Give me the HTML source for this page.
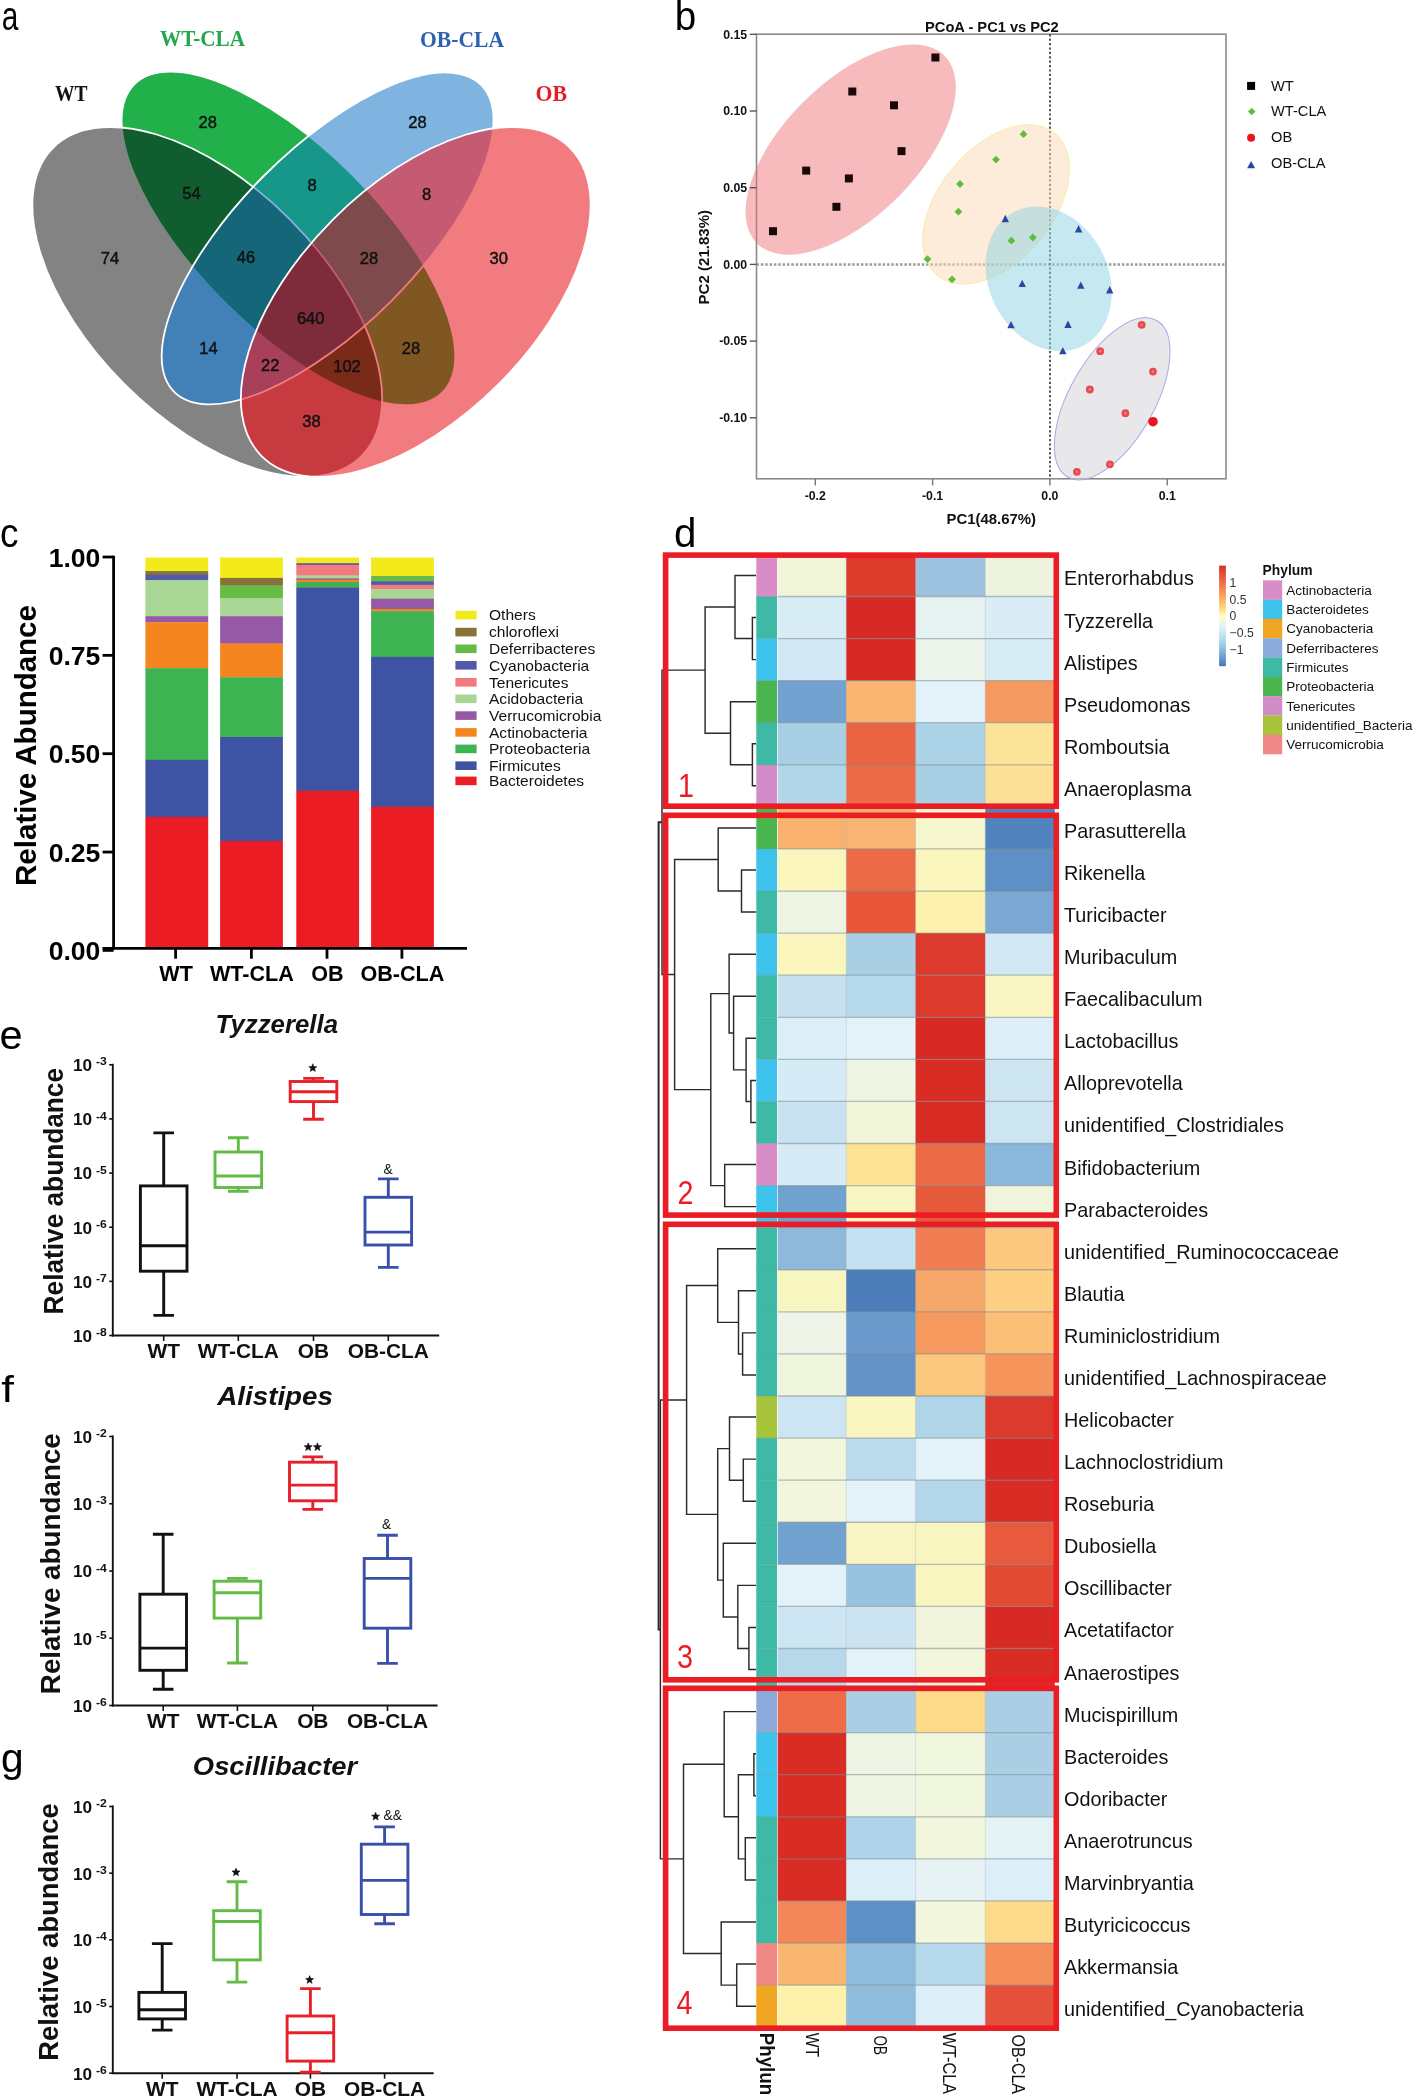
<!DOCTYPE html>
<html><head><meta charset="utf-8"><title>Figure</title>
<style>
html,body{margin:0;padding:0;background:#fff;width:1419px;height:2098px;overflow:hidden;}
svg{display:block;}
</style></head><body>
<svg style="will-change:transform" width="1419" height="2098" viewBox="0 0 1419 2098">
<defs>
<clipPath id="vcW"><ellipse cx="207.25" cy="301.9" rx="218" ry="116.8" transform="rotate(45 207.25 301.9)" /></clipPath>
<mask id="vnW" maskUnits="userSpaceOnUse" x="0" y="0" width="700" height="520"><rect x="0" y="0" width="700" height="520" fill="#fff"/><ellipse cx="207.25" cy="301.9" rx="218" ry="116.8" transform="rotate(45 207.25 301.9)" fill="#000"/></mask>
<clipPath id="vcG"><ellipse cx="288.4" cy="238.4" rx="217" ry="89.3" transform="rotate(45 288.4 238.4)" /></clipPath>
<mask id="vnG" maskUnits="userSpaceOnUse" x="0" y="0" width="700" height="520"><rect x="0" y="0" width="700" height="520" fill="#fff"/><ellipse cx="288.4" cy="238.4" rx="217" ry="89.3" transform="rotate(45 288.4 238.4)" fill="#000"/></mask>
<clipPath id="vcB"><ellipse cx="327.6" cy="238.4" rx="217" ry="89.3" transform="rotate(-45 327.6 238.4)" /></clipPath>
<mask id="vnB" maskUnits="userSpaceOnUse" x="0" y="0" width="700" height="520"><rect x="0" y="0" width="700" height="520" fill="#fff"/><ellipse cx="327.6" cy="238.4" rx="217" ry="89.3" transform="rotate(-45 327.6 238.4)" fill="#000"/></mask>
<clipPath id="vcR"><ellipse cx="415.75" cy="301.9" rx="218" ry="116.8" transform="rotate(-45 415.75 301.9)" /></clipPath>
<mask id="vnR" maskUnits="userSpaceOnUse" x="0" y="0" width="700" height="520"><rect x="0" y="0" width="700" height="520" fill="#fff"/><ellipse cx="415.75" cy="301.9" rx="218" ry="116.8" transform="rotate(-45 415.75 301.9)" fill="#000"/></mask>
<linearGradient id="ckey" x1="0" y1="0" x2="0" y2="1">
<stop offset="0" stop-color="#D73027"/><stop offset="0.17" stop-color="#F46D43"/><stop offset="0.33" stop-color="#FDAE61"/>
<stop offset="0.45" stop-color="#FEE090"/><stop offset="0.5" stop-color="#FFFFBF"/><stop offset="0.6" stop-color="#E0F3F8"/>
<stop offset="0.75" stop-color="#ABD9E9"/><stop offset="0.88" stop-color="#74ADD1"/><stop offset="1" stop-color="#4575B4"/></linearGradient>
</defs>
<rect x="0" y="0" width="1419" height="2098" fill="#fff"/>
<g id="venn">
<ellipse cx="207.25" cy="301.9" rx="218" ry="116.8" transform="rotate(45 207.25 301.9)" fill="#828382"/>
<ellipse cx="288.4" cy="238.4" rx="217" ry="89.3" transform="rotate(45 288.4 238.4)" fill="#22B04B"/>
<ellipse cx="327.6" cy="238.4" rx="217" ry="89.3" transform="rotate(-45 327.6 238.4)" fill="#80B4E0"/>
<ellipse cx="415.75" cy="301.9" rx="218" ry="116.8" transform="rotate(-45 415.75 301.9)" fill="#F27B7F"/>
<g clip-path="url(#vcW)"><ellipse cx="288.4" cy="238.4" rx="217" ry="89.3" transform="rotate(45 288.4 238.4)" fill="#105E2F"/></g>
<g clip-path="url(#vcG)"><ellipse cx="327.6" cy="238.4" rx="217" ry="89.3" transform="rotate(-45 327.6 238.4)" fill="#17968A"/></g>
<g clip-path="url(#vcB)"><ellipse cx="415.75" cy="301.9" rx="218" ry="116.8" transform="rotate(-45 415.75 301.9)" fill="#C45B72"/></g>
<g clip-path="url(#vcW)"><ellipse cx="327.6" cy="238.4" rx="217" ry="89.3" transform="rotate(-45 327.6 238.4)" fill="#4181B8"/></g>
<g clip-path="url(#vcW)"><ellipse cx="415.75" cy="301.9" rx="218" ry="116.8" transform="rotate(-45 415.75 301.9)" fill="#C73A3F"/></g>
<g clip-path="url(#vcG)"><ellipse cx="415.75" cy="301.9" rx="218" ry="116.8" transform="rotate(-45 415.75 301.9)" fill="#805722"/></g>
<g clip-path="url(#vcW)"><g clip-path="url(#vcG)"><ellipse cx="327.6" cy="238.4" rx="217" ry="89.3" transform="rotate(-45 327.6 238.4)" fill="#166679"/></g></g>
<g clip-path="url(#vcG)"><g clip-path="url(#vcB)"><ellipse cx="415.75" cy="301.9" rx="218" ry="116.8" transform="rotate(-45 415.75 301.9)" fill="#7F4A4B"/></g></g>
<g clip-path="url(#vcW)"><g clip-path="url(#vcG)"><ellipse cx="415.75" cy="301.9" rx="218" ry="116.8" transform="rotate(-45 415.75 301.9)" fill="#7A2A18"/></g></g>
<g clip-path="url(#vcW)"><g clip-path="url(#vcB)"><ellipse cx="415.75" cy="301.9" rx="218" ry="116.8" transform="rotate(-45 415.75 301.9)" fill="#A8405C"/></g></g>
<g clip-path="url(#vcW)"><g clip-path="url(#vcG)"><g clip-path="url(#vcB)"><ellipse cx="415.75" cy="301.9" rx="218" ry="116.8" transform="rotate(-45 415.75 301.9)" fill="#7E2C3C"/></g></g></g>
<g mask="url(#vnB)"><g mask="url(#vnR)"><ellipse cx="207.25" cy="301.9" rx="218" ry="116.8" transform="rotate(45 207.25 301.9)" fill="none" stroke="#fff" stroke-width="1.8"/></g></g>
<g clip-path="url(#vcB)"><g mask="url(#vnR)"><ellipse cx="207.25" cy="301.9" rx="218" ry="116.8" transform="rotate(45 207.25 301.9)" fill="none" stroke="#80B4E0" stroke-width="1.8"/></g></g>
<g clip-path="url(#vcR)"><g mask="url(#vnB)"><ellipse cx="207.25" cy="301.9" rx="218" ry="116.8" transform="rotate(45 207.25 301.9)" fill="none" stroke="#F27B7F" stroke-width="1.8"/></g></g>
<g clip-path="url(#vcR)"><g clip-path="url(#vcB)"><ellipse cx="207.25" cy="301.9" rx="218" ry="116.8" transform="rotate(45 207.25 301.9)" fill="none" stroke="#C45B72" stroke-width="1.8"/></g></g>
<g mask="url(#vnR)"><ellipse cx="327.6" cy="238.4" rx="217" ry="89.3" transform="rotate(-45 327.6 238.4)" fill="none" stroke="#fff" stroke-width="1.8"/></g>
<g clip-path="url(#vcR)"><ellipse cx="327.6" cy="238.4" rx="217" ry="89.3" transform="rotate(-45 327.6 238.4)" fill="none" stroke="#F27B7F" stroke-width="1.8"/></g>
<ellipse cx="415.75" cy="301.9" rx="218" ry="116.8" transform="rotate(-45 415.75 301.9)" fill="none" stroke="#fff" stroke-width="1.8"/>
</g>
<text x="207.8" y="128" font-family="Liberation Sans" font-size="16.5" font-weight="normal" fill="#111" text-anchor="middle" stroke="#111" stroke-width="0.45">28</text>
<text x="417.4" y="128" font-family="Liberation Sans" font-size="16.5" font-weight="normal" fill="#111" text-anchor="middle" stroke="#111" stroke-width="0.45">28</text>
<text x="191.4" y="199.3" font-family="Liberation Sans" font-size="16.5" font-weight="normal" fill="#111" text-anchor="middle" stroke="#111" stroke-width="0.45">54</text>
<text x="312" y="190.9" font-family="Liberation Sans" font-size="16.5" font-weight="normal" fill="#111" text-anchor="middle" stroke="#111" stroke-width="0.45">8</text>
<text x="426.7" y="199.5" font-family="Liberation Sans" font-size="16.5" font-weight="normal" fill="#111" text-anchor="middle" stroke="#111" stroke-width="0.45">8</text>
<text x="110" y="264.1" font-family="Liberation Sans" font-size="16.5" font-weight="normal" fill="#111" text-anchor="middle" stroke="#111" stroke-width="0.45">74</text>
<text x="246" y="263.4" font-family="Liberation Sans" font-size="16.5" font-weight="normal" fill="#111" text-anchor="middle" stroke="#111" stroke-width="0.45">46</text>
<text x="369" y="263.9" font-family="Liberation Sans" font-size="16.5" font-weight="normal" fill="#111" text-anchor="middle" stroke="#111" stroke-width="0.45">28</text>
<text x="498.7" y="263.6" font-family="Liberation Sans" font-size="16.5" font-weight="normal" fill="#111" text-anchor="middle" stroke="#111" stroke-width="0.45">30</text>
<text x="310.7" y="323.5" font-family="Liberation Sans" font-size="16.5" font-weight="normal" fill="#111" text-anchor="middle" stroke="#111" stroke-width="0.45">640</text>
<text x="208.4" y="354.1" font-family="Liberation Sans" font-size="16.5" font-weight="normal" fill="#111" text-anchor="middle" stroke="#111" stroke-width="0.45">14</text>
<text x="270.3" y="371.2" font-family="Liberation Sans" font-size="16.5" font-weight="normal" fill="#111" text-anchor="middle" stroke="#111" stroke-width="0.45">22</text>
<text x="347" y="371.5" font-family="Liberation Sans" font-size="16.5" font-weight="normal" fill="#111" text-anchor="middle" stroke="#111" stroke-width="0.45">102</text>
<text x="411" y="354.1" font-family="Liberation Sans" font-size="16.5" font-weight="normal" fill="#111" text-anchor="middle" stroke="#111" stroke-width="0.45">28</text>
<text x="311.4" y="427.3" font-family="Liberation Sans" font-size="16.5" font-weight="normal" fill="#111" text-anchor="middle" stroke="#111" stroke-width="0.45">38</text>
<text x="55" y="101" font-family="Liberation Serif" font-size="23.2" font-weight="bold" fill="#111" textLength="32.5" lengthAdjust="spacingAndGlyphs">WT</text>
<text x="160" y="46" font-family="Liberation Serif" font-size="23.2" font-weight="bold" fill="#21A84A" textLength="85" lengthAdjust="spacingAndGlyphs">WT-CLA</text>
<text x="420" y="46.5" font-family="Liberation Serif" font-size="23.2" font-weight="bold" fill="#2F62AE" textLength="84" lengthAdjust="spacingAndGlyphs">OB-CLA</text>
<text x="535.5" y="101.3" font-family="Liberation Serif" font-size="23.2" font-weight="bold" fill="#E41E25" textLength="31.5" lengthAdjust="spacingAndGlyphs">OB</text>
<text transform="translate(1.8 29.6) scale(0.72 1)" font-family="Liberation Sans" font-size="41.5" fill="#000">a</text>
<g id="pcoa">
<rect x="756.5" y="34.2" width="469.5" height="444.6" fill="none" stroke="#8a8a8a" stroke-width="1.6"/>
<line x1="756.5" y1="264.5" x2="1226" y2="264.5" stroke="#9b9b9b" stroke-width="2.6" stroke-dasharray="2.5 1.85"/>
<line x1="1050" y1="34.2" x2="1050" y2="478.8" stroke="#555" stroke-width="2" stroke-dasharray="2.2 2.2"/>
<ellipse cx="850.7" cy="149.55" rx="132.7" ry="67.1" transform="rotate(-45 850.7 149.55)" fill="#EE6E76" fill-opacity="0.48" stroke="none" stroke-width="0"/>
<ellipse cx="996.1" cy="204.4" rx="92.2" ry="56.7" transform="rotate(-50.25 996.1 204.4)" fill="#FBD9B5" fill-opacity="0.5" stroke="#F2EB9A" stroke-width="0.8"/>
<ellipse cx="1048.7" cy="278.8" rx="75.3" ry="59.6" transform="rotate(63.2 1048.7 278.8)" fill="#92D3E3" fill-opacity="0.52" stroke="none" stroke-width="0"/>
<ellipse cx="1112.2" cy="398.8" rx="90" ry="42.4" transform="rotate(-60.4 1112.2 398.8)" fill="#D5D5D8" fill-opacity="0.55" stroke="#A8A8E6" stroke-width="1"/>
<line x1="749.8" y1="34.3" x2="756.5" y2="34.3" stroke="#555" stroke-width="1.4"/>
<text x="747.2" y="38.6" font-family="Liberation Sans" font-size="12.3" font-weight="bold" fill="#111" text-anchor="end" >0.15</text>
<line x1="749.8" y1="111" x2="756.5" y2="111" stroke="#555" stroke-width="1.4"/>
<text x="747.2" y="115.3" font-family="Liberation Sans" font-size="12.3" font-weight="bold" fill="#111" text-anchor="end" >0.10</text>
<line x1="749.8" y1="187.7" x2="756.5" y2="187.7" stroke="#555" stroke-width="1.4"/>
<text x="747.2" y="192" font-family="Liberation Sans" font-size="12.3" font-weight="bold" fill="#111" text-anchor="end" >0.05</text>
<line x1="749.8" y1="264.4" x2="756.5" y2="264.4" stroke="#555" stroke-width="1.4"/>
<text x="747.2" y="268.7" font-family="Liberation Sans" font-size="12.3" font-weight="bold" fill="#111" text-anchor="end" >0.00</text>
<line x1="749.8" y1="341.1" x2="756.5" y2="341.1" stroke="#555" stroke-width="1.4"/>
<text x="747.2" y="345.4" font-family="Liberation Sans" font-size="12.3" font-weight="bold" fill="#111" text-anchor="end" >-0.05</text>
<line x1="749.8" y1="417.8" x2="756.5" y2="417.8" stroke="#555" stroke-width="1.4"/>
<text x="747.2" y="422.1" font-family="Liberation Sans" font-size="12.3" font-weight="bold" fill="#111" text-anchor="end" >-0.10</text>
<line x1="815.3" y1="478.8" x2="815.3" y2="485.4" stroke="#777" stroke-width="1.4"/>
<text x="815.3" y="499.6" font-family="Liberation Sans" font-size="12.3" font-weight="bold" fill="#111" text-anchor="middle" >-0.2</text>
<line x1="932.6" y1="478.8" x2="932.6" y2="485.4" stroke="#777" stroke-width="1.4"/>
<text x="932.6" y="499.6" font-family="Liberation Sans" font-size="12.3" font-weight="bold" fill="#111" text-anchor="middle" >-0.1</text>
<line x1="1049.9" y1="478.8" x2="1049.9" y2="485.4" stroke="#777" stroke-width="1.4"/>
<text x="1049.9" y="499.6" font-family="Liberation Sans" font-size="12.3" font-weight="bold" fill="#111" text-anchor="middle" >0.0</text>
<line x1="1167.2" y1="478.8" x2="1167.2" y2="485.4" stroke="#777" stroke-width="1.4"/>
<text x="1167.2" y="499.6" font-family="Liberation Sans" font-size="12.3" font-weight="bold" fill="#111" text-anchor="middle" >0.1</text>
<text x="991.9" y="31.6" font-family="Liberation Sans" font-size="14.65" font-weight="bold" fill="#111" text-anchor="middle" >PCoA - PC1 vs PC2</text>
<text x="991.3" y="524.3" font-family="Liberation Sans" font-size="14.9" font-weight="bold" fill="#111" text-anchor="middle" >PC1(48.67%)</text>
<text transform="translate(709.3 257.2) rotate(-90)" font-family="Liberation Sans" font-size="15.05" font-weight="bold" fill="#111" text-anchor="middle">PC2 (21.83%)</text>
<rect x="931.4" y="53.5" width="8" height="8" fill="#1a0808"/>
<rect x="848.3" y="87.5" width="8" height="8" fill="#1a0808"/>
<rect x="890" y="101.3" width="8" height="8" fill="#1a0808"/>
<rect x="897.5" y="147.1" width="8" height="8" fill="#1a0808"/>
<rect x="802.2" y="166.6" width="8" height="8" fill="#1a0808"/>
<rect x="844.9" y="174.4" width="8" height="8" fill="#1a0808"/>
<rect x="832.4" y="202.8" width="8" height="8" fill="#1a0808"/>
<rect x="769" y="227.2" width="8" height="8" fill="#1a0808"/>
<path d="M1023.5 130.3l3.9 3.9l-3.9 3.9l-3.9 -3.9z" fill="#5DBE3A"/>
<path d="M996 155.7l3.9 3.9l-3.9 3.9l-3.9 -3.9z" fill="#5DBE3A"/>
<path d="M960 180.1l3.9 3.9l-3.9 3.9l-3.9 -3.9z" fill="#5DBE3A"/>
<path d="M958.4 207.8l3.9 3.9l-3.9 3.9l-3.9 -3.9z" fill="#5DBE3A"/>
<path d="M1011.4 236.8l3.9 3.9l-3.9 3.9l-3.9 -3.9z" fill="#5DBE3A"/>
<path d="M1032.8 233.6l3.9 3.9l-3.9 3.9l-3.9 -3.9z" fill="#5DBE3A"/>
<path d="M927.5 255.2l3.9 3.9l-3.9 3.9l-3.9 -3.9z" fill="#5DBE3A"/>
<path d="M952 275.5l3.9 3.9l-3.9 3.9l-3.9 -3.9z" fill="#5DBE3A"/>
<path d="M1005.3 214.8l3.7 7.4h-7.4z" fill="#2C46A6"/>
<path d="M1078.6 225l3.7 7.4h-7.4z" fill="#2C46A6"/>
<path d="M1022.2 279.7l3.7 7.4h-7.4z" fill="#2C46A6"/>
<path d="M1080.8 281.4l3.7 7.4h-7.4z" fill="#2C46A6"/>
<path d="M1109.7 286.1l3.7 7.4h-7.4z" fill="#2C46A6"/>
<path d="M1011 320.9l3.7 7.4h-7.4z" fill="#2C46A6"/>
<path d="M1068 320.5l3.7 7.4h-7.4z" fill="#2C46A6"/>
<path d="M1062.8 346.9l3.7 7.4h-7.4z" fill="#2C46A6"/>
<circle cx="1141.7" cy="324.8" r="3.9" fill="#EA4850"/>
<circle cx="1141.7" cy="324.8" r="1.4" fill="#F27A80"/>
<circle cx="1100.2" cy="351.2" r="3.9" fill="#EA4850"/>
<circle cx="1100.2" cy="351.2" r="1.4" fill="#F27A80"/>
<circle cx="1153" cy="371.6" r="3.9" fill="#EA4850"/>
<circle cx="1153" cy="371.6" r="1.4" fill="#F27A80"/>
<circle cx="1089.8" cy="389.5" r="3.9" fill="#EA4850"/>
<circle cx="1089.8" cy="389.5" r="1.4" fill="#F27A80"/>
<circle cx="1125.4" cy="413.2" r="3.9" fill="#EA4850"/>
<circle cx="1125.4" cy="413.2" r="1.4" fill="#F27A80"/>
<circle cx="1109.9" cy="464.3" r="3.9" fill="#EA4850"/>
<circle cx="1109.9" cy="464.3" r="1.4" fill="#F27A80"/>
<circle cx="1076.9" cy="471.8" r="3.9" fill="#EA4850"/>
<circle cx="1076.9" cy="471.8" r="1.4" fill="#F27A80"/>
<circle cx="1153" cy="421.7" r="4.8" fill="#E8141E"/>
<rect x="1247.1" y="81.9" width="8" height="8" fill="#000"/>
<path d="M1251.7 107.7l3.8 3.8l-3.8 3.8l-3.8 -3.8z" fill="#5DBE3A"/>
<circle cx="1251.1" cy="137.7" r="4.0" fill="#E8141E"/>
<path d="M1251.1 160.9l4 7.4h-8z" fill="#2C46A6"/>
<text x="1271" y="90.7" font-family="Liberation Sans" font-size="14.65" font-weight="normal" fill="#111" text-anchor="start" >WT</text>
<text x="1271" y="115.7" font-family="Liberation Sans" font-size="14.65" font-weight="normal" fill="#111" text-anchor="start" >WT-CLA</text>
<text x="1271" y="142" font-family="Liberation Sans" font-size="14.65" font-weight="normal" fill="#111" text-anchor="start" >OB</text>
<text x="1271" y="168" font-family="Liberation Sans" font-size="14.65" font-weight="normal" fill="#111" text-anchor="start" >OB-CLA</text>
</g>
<text transform="translate(674.7 30) scale(0.93 1)" font-family="Liberation Sans" font-size="41.5" fill="#000">b</text>
<g id="bars">
<rect x="145.4" y="557.5" width="62.8" height="13.9" fill="#F3EA1B"/>
<rect x="145.4" y="571.1" width="62.8" height="3.9" fill="#85733A"/>
<rect x="145.4" y="574.7" width="62.8" height="5.8" fill="#5159A8"/>
<rect x="145.4" y="580.2" width="62.8" height="36.3" fill="#A9D595"/>
<rect x="145.4" y="616.2" width="62.8" height="6.3" fill="#9659A6"/>
<rect x="145.4" y="622.2" width="62.8" height="46.3" fill="#F5861F"/>
<rect x="145.4" y="668.2" width="62.8" height="91.9" fill="#3DB351"/>
<rect x="145.4" y="759.8" width="62.8" height="57.4" fill="#3F53A5"/>
<rect x="145.4" y="816.9" width="62.8" height="131.9" fill="#EB1C24"/>
<rect x="220.1" y="557.5" width="62.8" height="20.7" fill="#F3EA1B"/>
<rect x="220.1" y="577.9" width="62.8" height="7.9" fill="#85733A"/>
<rect x="220.1" y="585.5" width="62.8" height="12.8" fill="#66BB46"/>
<rect x="220.1" y="598" width="62.8" height="18.5" fill="#A9D595"/>
<rect x="220.1" y="616.2" width="62.8" height="27.6" fill="#9659A6"/>
<rect x="220.1" y="643.5" width="62.8" height="34.1" fill="#F5861F"/>
<rect x="220.1" y="677.3" width="62.8" height="60" fill="#3DB351"/>
<rect x="220.1" y="737" width="62.8" height="104.3" fill="#3F53A5"/>
<rect x="220.1" y="841" width="62.8" height="107.8" fill="#EB1C24"/>
<rect x="296.3" y="557.5" width="62.8" height="6" fill="#F3EA1B"/>
<rect x="296.3" y="563.2" width="62.8" height="2" fill="#5159A8"/>
<rect x="296.3" y="564.9" width="62.8" height="10.9" fill="#F07A7E"/>
<rect x="296.3" y="575.5" width="62.8" height="3.1" fill="#A9D595"/>
<rect x="296.3" y="578.3" width="62.8" height="1.8" fill="#9659A6"/>
<rect x="296.3" y="579.8" width="62.8" height="2.5" fill="#F5861F"/>
<rect x="296.3" y="582" width="62.8" height="5.7" fill="#3DB351"/>
<rect x="296.3" y="587.4" width="62.8" height="203.6" fill="#3F53A5"/>
<rect x="296.3" y="790.7" width="62.8" height="158.1" fill="#EB1C24"/>
<rect x="371.1" y="557.5" width="62.8" height="18.8" fill="#F3EA1B"/>
<rect x="371.1" y="576" width="62.8" height="5.5" fill="#66BB46"/>
<rect x="371.1" y="581.2" width="62.8" height="3.9" fill="#5159A8"/>
<rect x="371.1" y="584.8" width="62.8" height="4.6" fill="#F07A7E"/>
<rect x="371.1" y="589.1" width="62.8" height="9.9" fill="#A9D595"/>
<rect x="371.1" y="598.7" width="62.8" height="10.6" fill="#9659A6"/>
<rect x="371.1" y="609" width="62.8" height="2.5" fill="#F5861F"/>
<rect x="371.1" y="611.2" width="62.8" height="46" fill="#3DB351"/>
<rect x="371.1" y="656.9" width="62.8" height="150.1" fill="#3F53A5"/>
<rect x="371.1" y="806.7" width="62.8" height="142.1" fill="#EB1C24"/>
<line x1="113.6" y1="555.8" x2="113.6" y2="949.6" stroke="#000" stroke-width="2.8"/>
<line x1="102.5" y1="948.4" x2="467" y2="948.4" stroke="#000" stroke-width="2.8"/>
<line x1="102.6" y1="557" x2="113.6" y2="557" stroke="#000" stroke-width="2.8"/>
<text x="100.4" y="566.6" font-family="Liberation Sans" font-size="26.6" font-weight="bold" fill="#000" text-anchor="end" >1.00</text>
<line x1="102.6" y1="655.35" x2="113.6" y2="655.35" stroke="#000" stroke-width="2.8"/>
<text x="100.4" y="664.95" font-family="Liberation Sans" font-size="26.6" font-weight="bold" fill="#000" text-anchor="end" >0.75</text>
<line x1="102.6" y1="753.7" x2="113.6" y2="753.7" stroke="#000" stroke-width="2.8"/>
<text x="100.4" y="763.3" font-family="Liberation Sans" font-size="26.6" font-weight="bold" fill="#000" text-anchor="end" >0.50</text>
<line x1="102.6" y1="852.05" x2="113.6" y2="852.05" stroke="#000" stroke-width="2.8"/>
<text x="100.4" y="861.65" font-family="Liberation Sans" font-size="26.6" font-weight="bold" fill="#000" text-anchor="end" >0.25</text>
<line x1="102.6" y1="950.4" x2="113.6" y2="950.4" stroke="#000" stroke-width="2.8"/>
<text x="100.4" y="960" font-family="Liberation Sans" font-size="26.6" font-weight="bold" fill="#000" text-anchor="end" >0.00</text>
<line x1="175.6" y1="948.4" x2="175.6" y2="958.7" stroke="#000" stroke-width="2.8"/>
<text x="176.1" y="981" font-family="Liberation Sans" font-size="21.6" font-weight="bold" fill="#000" text-anchor="middle" >WT</text>
<line x1="251.4" y1="948.4" x2="251.4" y2="958.7" stroke="#000" stroke-width="2.8"/>
<text x="251.9" y="981" font-family="Liberation Sans" font-size="21.6" font-weight="bold" fill="#000" text-anchor="middle" >WT-CLA</text>
<line x1="327" y1="948.4" x2="327" y2="958.7" stroke="#000" stroke-width="2.8"/>
<text x="327.5" y="981" font-family="Liberation Sans" font-size="21.6" font-weight="bold" fill="#000" text-anchor="middle" >OB</text>
<line x1="401.9" y1="948.4" x2="401.9" y2="958.7" stroke="#000" stroke-width="2.8"/>
<text x="402.4" y="981" font-family="Liberation Sans" font-size="21.6" font-weight="bold" fill="#000" text-anchor="middle" >OB-CLA</text>
<text transform="translate(36.2 745.5) rotate(-90)" font-family="Liberation Sans" font-size="29.5" font-weight="bold" fill="#000" text-anchor="middle">Relative Abundance</text>
<rect x="455.4" y="610.8" width="21.2" height="8.6" fill="#F3EA1B"/>
<text x="489" y="620.4" font-family="Liberation Sans" font-size="15.55" font-weight="normal" fill="#111" text-anchor="start" >Others</text>
<rect x="455.4" y="627.8" width="21.2" height="8.6" fill="#85733A"/>
<text x="489" y="637.4" font-family="Liberation Sans" font-size="15.55" font-weight="normal" fill="#111" text-anchor="start" >chloroflexi</text>
<rect x="455.4" y="644.5" width="21.2" height="8.6" fill="#66BB46"/>
<text x="489" y="654.1" font-family="Liberation Sans" font-size="15.55" font-weight="normal" fill="#111" text-anchor="start" >Deferribacteres</text>
<rect x="455.4" y="661" width="21.2" height="8.6" fill="#5159A8"/>
<text x="489" y="670.6" font-family="Liberation Sans" font-size="15.55" font-weight="normal" fill="#111" text-anchor="start" >Cyanobacteria</text>
<rect x="455.4" y="678" width="21.2" height="8.6" fill="#F07A7E"/>
<text x="489" y="687.6" font-family="Liberation Sans" font-size="15.55" font-weight="normal" fill="#111" text-anchor="start" >Tenericutes</text>
<rect x="455.4" y="694.5" width="21.2" height="8.6" fill="#A9D595"/>
<text x="489" y="704.1" font-family="Liberation Sans" font-size="15.55" font-weight="normal" fill="#111" text-anchor="start" >Acidobacteria</text>
<rect x="455.4" y="711.3" width="21.2" height="8.6" fill="#9659A6"/>
<text x="489" y="720.9" font-family="Liberation Sans" font-size="15.55" font-weight="normal" fill="#111" text-anchor="start" >Verrucomicrobia</text>
<rect x="455.4" y="728.1" width="21.2" height="8.6" fill="#F5861F"/>
<text x="489" y="737.7" font-family="Liberation Sans" font-size="15.55" font-weight="normal" fill="#111" text-anchor="start" >Actinobacteria</text>
<rect x="455.4" y="744.6" width="21.2" height="8.6" fill="#3DB351"/>
<text x="489" y="754.2" font-family="Liberation Sans" font-size="15.55" font-weight="normal" fill="#111" text-anchor="start" >Proteobacteria</text>
<rect x="455.4" y="761.4" width="21.2" height="8.6" fill="#3F53A5"/>
<text x="489" y="771" font-family="Liberation Sans" font-size="15.55" font-weight="normal" fill="#111" text-anchor="start" >Firmicutes</text>
<rect x="455.4" y="776.6" width="21.2" height="8.6" fill="#EB1C24"/>
<text x="489" y="786.2" font-family="Liberation Sans" font-size="15.55" font-weight="normal" fill="#111" text-anchor="start" >Bacteroidetes</text>
</g>
<text transform="translate(0 547.2) scale(0.89 1)" font-family="Liberation Sans" font-size="41.5" fill="#000">c</text>
<g id="heat">
<rect x="756.3" y="554.4" width="21.1" height="42.28" fill="#DA8CC6"/>
<rect x="777.2" y="554.4" width="69.3" height="42.28" fill="#F1F6D8"/>
<rect x="846.3" y="554.4" width="69.5" height="42.28" fill="#DC3B2C"/>
<rect x="915.6" y="554.4" width="69.9" height="42.28" fill="#9DC3E0"/>
<rect x="985.3" y="554.4" width="69.5" height="42.28" fill="#EEF3E0"/>
<rect x="756.3" y="596.48" width="21.1" height="42.28" fill="#3DB9A6"/>
<rect x="777.2" y="596.48" width="69.3" height="42.28" fill="#D8ECF6"/>
<rect x="846.3" y="596.48" width="69.5" height="42.28" fill="#D82A24"/>
<rect x="915.6" y="596.48" width="69.9" height="42.28" fill="#E6F2F2"/>
<rect x="985.3" y="596.48" width="69.5" height="42.28" fill="#DAEDF6"/>
<rect x="756.3" y="638.56" width="21.1" height="42.28" fill="#3DC3EC"/>
<rect x="777.2" y="638.56" width="69.3" height="42.28" fill="#D2E8F4"/>
<rect x="846.3" y="638.56" width="69.5" height="42.28" fill="#D82A24"/>
<rect x="915.6" y="638.56" width="69.9" height="42.28" fill="#EBF3EB"/>
<rect x="985.3" y="638.56" width="69.5" height="42.28" fill="#D8ECF6"/>
<rect x="756.3" y="680.64" width="21.1" height="42.28" fill="#4BB54F"/>
<rect x="777.2" y="680.64" width="69.3" height="42.28" fill="#73A2D0"/>
<rect x="846.3" y="680.64" width="69.5" height="42.28" fill="#F8B470"/>
<rect x="915.6" y="680.64" width="69.9" height="42.28" fill="#E2F2F8"/>
<rect x="985.3" y="680.64" width="69.5" height="42.28" fill="#F49A60"/>
<rect x="756.3" y="722.72" width="21.1" height="42.28" fill="#3DB9A6"/>
<rect x="777.2" y="722.72" width="69.3" height="42.28" fill="#A8CFE4"/>
<rect x="846.3" y="722.72" width="69.5" height="42.28" fill="#EA6443"/>
<rect x="915.6" y="722.72" width="69.9" height="42.28" fill="#ABD2E6"/>
<rect x="985.3" y="722.72" width="69.5" height="42.28" fill="#FCE39A"/>
<rect x="756.3" y="764.8" width="21.1" height="42.28" fill="#D28CC8"/>
<rect x="777.2" y="764.8" width="69.3" height="42.28" fill="#B0D6E8"/>
<rect x="846.3" y="764.8" width="69.5" height="42.28" fill="#EC6B47"/>
<rect x="915.6" y="764.8" width="69.9" height="42.28" fill="#A8CFE4"/>
<rect x="985.3" y="764.8" width="69.5" height="42.28" fill="#FCE096"/>
<rect x="756.3" y="806.88" width="21.1" height="42.28" fill="#4BB54F"/>
<rect x="777.2" y="806.88" width="69.3" height="42.28" fill="#F9B170"/>
<rect x="846.3" y="806.88" width="69.5" height="42.28" fill="#F9B473"/>
<rect x="915.6" y="806.88" width="69.9" height="42.28" fill="#F6F7CF"/>
<rect x="985.3" y="806.88" width="69.5" height="42.28" fill="#5184BE"/>
<rect x="756.3" y="848.96" width="21.1" height="42.28" fill="#3DC3EC"/>
<rect x="777.2" y="848.96" width="69.3" height="42.28" fill="#FAF6BE"/>
<rect x="846.3" y="848.96" width="69.5" height="42.28" fill="#EC6A48"/>
<rect x="915.6" y="848.96" width="69.9" height="42.28" fill="#FAF6BE"/>
<rect x="985.3" y="848.96" width="69.5" height="42.28" fill="#5E8FC6"/>
<rect x="756.3" y="891.04" width="21.1" height="42.28" fill="#3DB9A6"/>
<rect x="777.2" y="891.04" width="69.3" height="42.28" fill="#EEF4E4"/>
<rect x="846.3" y="891.04" width="69.5" height="42.28" fill="#E8573A"/>
<rect x="915.6" y="891.04" width="69.9" height="42.28" fill="#FCF2AE"/>
<rect x="985.3" y="891.04" width="69.5" height="42.28" fill="#7AA8D2"/>
<rect x="756.3" y="933.12" width="21.1" height="42.28" fill="#3DC3EC"/>
<rect x="777.2" y="933.12" width="69.3" height="42.28" fill="#FAF6BE"/>
<rect x="846.3" y="933.12" width="69.5" height="42.28" fill="#A8CFE4"/>
<rect x="915.6" y="933.12" width="69.9" height="42.28" fill="#DC3A2D"/>
<rect x="985.3" y="933.12" width="69.5" height="42.28" fill="#D2E8F4"/>
<rect x="756.3" y="975.2" width="21.1" height="42.28" fill="#3DB9A6"/>
<rect x="777.2" y="975.2" width="69.3" height="42.28" fill="#C6E0F0"/>
<rect x="846.3" y="975.2" width="69.5" height="42.28" fill="#B5D8EA"/>
<rect x="915.6" y="975.2" width="69.9" height="42.28" fill="#DB3A2C"/>
<rect x="985.3" y="975.2" width="69.5" height="42.28" fill="#FAF6C4"/>
<rect x="756.3" y="1017.28" width="21.1" height="42.28" fill="#3DB9A6"/>
<rect x="777.2" y="1017.28" width="69.3" height="42.28" fill="#DCEEF7"/>
<rect x="846.3" y="1017.28" width="69.5" height="42.28" fill="#E2F2F7"/>
<rect x="915.6" y="1017.28" width="69.9" height="42.28" fill="#D72A24"/>
<rect x="985.3" y="1017.28" width="69.5" height="42.28" fill="#DCEEF7"/>
<rect x="756.3" y="1059.36" width="21.1" height="42.28" fill="#3DC3EC"/>
<rect x="777.2" y="1059.36" width="69.3" height="42.28" fill="#D5EBF6"/>
<rect x="846.3" y="1059.36" width="69.5" height="42.28" fill="#EEF4E2"/>
<rect x="915.6" y="1059.36" width="69.9" height="42.28" fill="#D82C25"/>
<rect x="985.3" y="1059.36" width="69.5" height="42.28" fill="#CDE5F1"/>
<rect x="756.3" y="1101.44" width="21.1" height="42.28" fill="#3DB9A6"/>
<rect x="777.2" y="1101.44" width="69.3" height="42.28" fill="#C9E2F1"/>
<rect x="846.3" y="1101.44" width="69.5" height="42.28" fill="#F0F5DA"/>
<rect x="915.6" y="1101.44" width="69.9" height="42.28" fill="#D82C25"/>
<rect x="985.3" y="1101.44" width="69.5" height="42.28" fill="#CCE5F1"/>
<rect x="756.3" y="1143.52" width="21.1" height="42.28" fill="#DA8CC6"/>
<rect x="777.2" y="1143.52" width="69.3" height="42.28" fill="#D6EBF6"/>
<rect x="846.3" y="1143.52" width="69.5" height="42.28" fill="#FCE394"/>
<rect x="915.6" y="1143.52" width="69.9" height="42.28" fill="#EC6A46"/>
<rect x="985.3" y="1143.52" width="69.5" height="42.28" fill="#8AB8DA"/>
<rect x="756.3" y="1185.6" width="21.1" height="42.28" fill="#3DC3EC"/>
<rect x="777.2" y="1185.6" width="69.3" height="42.28" fill="#70A2D0"/>
<rect x="846.3" y="1185.6" width="69.5" height="42.28" fill="#F8F5C0"/>
<rect x="915.6" y="1185.6" width="69.9" height="42.28" fill="#E65A3C"/>
<rect x="985.3" y="1185.6" width="69.5" height="42.28" fill="#EFF4DA"/>
<rect x="756.3" y="1227.68" width="21.1" height="42.28" fill="#3DB9A6"/>
<rect x="777.2" y="1227.68" width="69.3" height="42.28" fill="#8EB9DA"/>
<rect x="846.3" y="1227.68" width="69.5" height="42.28" fill="#C3E1F0"/>
<rect x="915.6" y="1227.68" width="69.9" height="42.28" fill="#F07E52"/>
<rect x="985.3" y="1227.68" width="69.5" height="42.28" fill="#FCC77E"/>
<rect x="756.3" y="1269.76" width="21.1" height="42.28" fill="#3DB9A6"/>
<rect x="777.2" y="1269.76" width="69.3" height="42.28" fill="#F8F6C0"/>
<rect x="846.3" y="1269.76" width="69.5" height="42.28" fill="#4C7DB9"/>
<rect x="915.6" y="1269.76" width="69.9" height="42.28" fill="#F6A86A"/>
<rect x="985.3" y="1269.76" width="69.5" height="42.28" fill="#FDD084"/>
<rect x="756.3" y="1311.84" width="21.1" height="42.28" fill="#3DB9A6"/>
<rect x="777.2" y="1311.84" width="69.3" height="42.28" fill="#EEF4E8"/>
<rect x="846.3" y="1311.84" width="69.5" height="42.28" fill="#6A9ACB"/>
<rect x="915.6" y="1311.84" width="69.9" height="42.28" fill="#F5995E"/>
<rect x="985.3" y="1311.84" width="69.5" height="42.28" fill="#FCBF78"/>
<rect x="756.3" y="1353.92" width="21.1" height="42.28" fill="#3DB9A6"/>
<rect x="777.2" y="1353.92" width="69.3" height="42.28" fill="#F0F5DE"/>
<rect x="846.3" y="1353.92" width="69.5" height="42.28" fill="#6593C8"/>
<rect x="915.6" y="1353.92" width="69.9" height="42.28" fill="#FCC880"/>
<rect x="985.3" y="1353.92" width="69.5" height="42.28" fill="#F5955C"/>
<rect x="756.3" y="1396" width="21.1" height="42.28" fill="#A8C43A"/>
<rect x="777.2" y="1396" width="69.3" height="42.28" fill="#CDE5F3"/>
<rect x="846.3" y="1396" width="69.5" height="42.28" fill="#FAF6C0"/>
<rect x="915.6" y="1396" width="69.9" height="42.28" fill="#B0D5E8"/>
<rect x="985.3" y="1396" width="69.5" height="42.28" fill="#DC3A2C"/>
<rect x="756.3" y="1438.08" width="21.1" height="42.28" fill="#3DB9A6"/>
<rect x="777.2" y="1438.08" width="69.3" height="42.28" fill="#F2F6DC"/>
<rect x="846.3" y="1438.08" width="69.5" height="42.28" fill="#BCDCEE"/>
<rect x="915.6" y="1438.08" width="69.9" height="42.28" fill="#E2F2F8"/>
<rect x="985.3" y="1438.08" width="69.5" height="42.28" fill="#D82A24"/>
<rect x="756.3" y="1480.16" width="21.1" height="42.28" fill="#3DB9A6"/>
<rect x="777.2" y="1480.16" width="69.3" height="42.28" fill="#F2F6DC"/>
<rect x="846.3" y="1480.16" width="69.5" height="42.28" fill="#E2F2F8"/>
<rect x="915.6" y="1480.16" width="69.9" height="42.28" fill="#B3D6EA"/>
<rect x="985.3" y="1480.16" width="69.5" height="42.28" fill="#D92C25"/>
<rect x="756.3" y="1522.24" width="21.1" height="42.28" fill="#3DB9A6"/>
<rect x="777.2" y="1522.24" width="69.3" height="42.28" fill="#72A2D0"/>
<rect x="846.3" y="1522.24" width="69.5" height="42.28" fill="#F8F5C2"/>
<rect x="915.6" y="1522.24" width="69.9" height="42.28" fill="#F8F5C0"/>
<rect x="985.3" y="1522.24" width="69.5" height="42.28" fill="#E85A3E"/>
<rect x="756.3" y="1564.32" width="21.1" height="42.28" fill="#3DB9A6"/>
<rect x="777.2" y="1564.32" width="69.3" height="42.28" fill="#E2F2F8"/>
<rect x="846.3" y="1564.32" width="69.5" height="42.28" fill="#98C2DE"/>
<rect x="915.6" y="1564.32" width="69.9" height="42.28" fill="#F8F5C0"/>
<rect x="985.3" y="1564.32" width="69.5" height="42.28" fill="#E34A33"/>
<rect x="756.3" y="1606.4" width="21.1" height="42.28" fill="#3DB9A6"/>
<rect x="777.2" y="1606.4" width="69.3" height="42.28" fill="#CDE5F3"/>
<rect x="846.3" y="1606.4" width="69.5" height="42.28" fill="#CCE4F2"/>
<rect x="915.6" y="1606.4" width="69.9" height="42.28" fill="#F0F5DC"/>
<rect x="985.3" y="1606.4" width="69.5" height="42.28" fill="#D82A24"/>
<rect x="756.3" y="1648.48" width="21.1" height="42.28" fill="#3DB9A6"/>
<rect x="777.2" y="1648.48" width="69.3" height="42.28" fill="#B7D8EB"/>
<rect x="846.3" y="1648.48" width="69.5" height="42.28" fill="#E2F2F8"/>
<rect x="915.6" y="1648.48" width="69.9" height="42.28" fill="#F2F6DC"/>
<rect x="985.3" y="1648.48" width="69.5" height="42.28" fill="#D92C25"/>
<rect x="756.3" y="1690.56" width="21.1" height="42.28" fill="#8DAADC"/>
<rect x="777.2" y="1690.56" width="69.3" height="42.28" fill="#EE6D48"/>
<rect x="846.3" y="1690.56" width="69.5" height="42.28" fill="#AACFE5"/>
<rect x="915.6" y="1690.56" width="69.9" height="42.28" fill="#FDD98A"/>
<rect x="985.3" y="1690.56" width="69.5" height="42.28" fill="#AACFE5"/>
<rect x="756.3" y="1732.64" width="21.1" height="42.28" fill="#3DC3EC"/>
<rect x="777.2" y="1732.64" width="69.3" height="42.28" fill="#D92C25"/>
<rect x="846.3" y="1732.64" width="69.5" height="42.28" fill="#EEF5E4"/>
<rect x="915.6" y="1732.64" width="69.9" height="42.28" fill="#F1F6DE"/>
<rect x="985.3" y="1732.64" width="69.5" height="42.28" fill="#AACFE5"/>
<rect x="756.3" y="1774.72" width="21.1" height="42.28" fill="#3DC3EC"/>
<rect x="777.2" y="1774.72" width="69.3" height="42.28" fill="#D92C25"/>
<rect x="846.3" y="1774.72" width="69.5" height="42.28" fill="#EEF5E4"/>
<rect x="915.6" y="1774.72" width="69.9" height="42.28" fill="#F1F6DE"/>
<rect x="985.3" y="1774.72" width="69.5" height="42.28" fill="#AACFE5"/>
<rect x="756.3" y="1816.8" width="21.1" height="42.28" fill="#3DB9A6"/>
<rect x="777.2" y="1816.8" width="69.3" height="42.28" fill="#D92C25"/>
<rect x="846.3" y="1816.8" width="69.5" height="42.28" fill="#AFD3E8"/>
<rect x="915.6" y="1816.8" width="69.9" height="42.28" fill="#F1F6DC"/>
<rect x="985.3" y="1816.8" width="69.5" height="42.28" fill="#E4F2F6"/>
<rect x="756.3" y="1858.88" width="21.1" height="42.28" fill="#3DB9A6"/>
<rect x="777.2" y="1858.88" width="69.3" height="42.28" fill="#D92C25"/>
<rect x="846.3" y="1858.88" width="69.5" height="42.28" fill="#DCEEF7"/>
<rect x="915.6" y="1858.88" width="69.9" height="42.28" fill="#E6F2F4"/>
<rect x="985.3" y="1858.88" width="69.5" height="42.28" fill="#DCEEF7"/>
<rect x="756.3" y="1900.96" width="21.1" height="42.28" fill="#3DB9A6"/>
<rect x="777.2" y="1900.96" width="69.3" height="42.28" fill="#F3875A"/>
<rect x="846.3" y="1900.96" width="69.5" height="42.28" fill="#5E90C6"/>
<rect x="915.6" y="1900.96" width="69.9" height="42.28" fill="#F2F6DC"/>
<rect x="985.3" y="1900.96" width="69.5" height="42.28" fill="#FDD98A"/>
<rect x="756.3" y="1943.04" width="21.1" height="42.28" fill="#F08888"/>
<rect x="777.2" y="1943.04" width="69.3" height="42.28" fill="#F9B572"/>
<rect x="846.3" y="1943.04" width="69.5" height="42.28" fill="#90BCDC"/>
<rect x="915.6" y="1943.04" width="69.9" height="42.28" fill="#B6D8EB"/>
<rect x="985.3" y="1943.04" width="69.5" height="42.28" fill="#F48F5C"/>
<rect x="756.3" y="1985.12" width="21.1" height="42.28" fill="#F0A623"/>
<rect x="777.2" y="1985.12" width="69.3" height="42.28" fill="#FCF2AC"/>
<rect x="846.3" y="1985.12" width="69.5" height="42.28" fill="#90BCDC"/>
<rect x="915.6" y="1985.12" width="69.9" height="42.28" fill="#DCEEF7"/>
<rect x="985.3" y="1985.12" width="69.5" height="42.28" fill="#E4503A"/>
<line x1="777.2" y1="596.48" x2="1054.6" y2="596.48" stroke="#7d8a90" stroke-opacity="0.55" stroke-width="1.3"/>
<line x1="756.3" y1="596.48" x2="777.2" y2="596.48" stroke="#6a9a90" stroke-opacity="0.35" stroke-width="1"/>
<line x1="777.2" y1="638.56" x2="1054.6" y2="638.56" stroke="#7d8a90" stroke-opacity="0.55" stroke-width="1.3"/>
<line x1="756.3" y1="638.56" x2="777.2" y2="638.56" stroke="#6a9a90" stroke-opacity="0.35" stroke-width="1"/>
<line x1="777.2" y1="680.64" x2="1054.6" y2="680.64" stroke="#7d8a90" stroke-opacity="0.55" stroke-width="1.3"/>
<line x1="756.3" y1="680.64" x2="777.2" y2="680.64" stroke="#6a9a90" stroke-opacity="0.35" stroke-width="1"/>
<line x1="777.2" y1="722.72" x2="1054.6" y2="722.72" stroke="#7d8a90" stroke-opacity="0.55" stroke-width="1.3"/>
<line x1="756.3" y1="722.72" x2="777.2" y2="722.72" stroke="#6a9a90" stroke-opacity="0.35" stroke-width="1"/>
<line x1="777.2" y1="764.8" x2="1054.6" y2="764.8" stroke="#7d8a90" stroke-opacity="0.55" stroke-width="1.3"/>
<line x1="756.3" y1="764.8" x2="777.2" y2="764.8" stroke="#6a9a90" stroke-opacity="0.35" stroke-width="1"/>
<line x1="777.2" y1="806.88" x2="1054.6" y2="806.88" stroke="#7d8a90" stroke-opacity="0.55" stroke-width="1.3"/>
<line x1="756.3" y1="806.88" x2="777.2" y2="806.88" stroke="#6a9a90" stroke-opacity="0.35" stroke-width="1"/>
<line x1="777.2" y1="848.96" x2="1054.6" y2="848.96" stroke="#7d8a90" stroke-opacity="0.55" stroke-width="1.3"/>
<line x1="756.3" y1="848.96" x2="777.2" y2="848.96" stroke="#6a9a90" stroke-opacity="0.35" stroke-width="1"/>
<line x1="777.2" y1="891.04" x2="1054.6" y2="891.04" stroke="#7d8a90" stroke-opacity="0.55" stroke-width="1.3"/>
<line x1="756.3" y1="891.04" x2="777.2" y2="891.04" stroke="#6a9a90" stroke-opacity="0.35" stroke-width="1"/>
<line x1="777.2" y1="933.12" x2="1054.6" y2="933.12" stroke="#7d8a90" stroke-opacity="0.55" stroke-width="1.3"/>
<line x1="756.3" y1="933.12" x2="777.2" y2="933.12" stroke="#6a9a90" stroke-opacity="0.35" stroke-width="1"/>
<line x1="777.2" y1="975.2" x2="1054.6" y2="975.2" stroke="#7d8a90" stroke-opacity="0.55" stroke-width="1.3"/>
<line x1="756.3" y1="975.2" x2="777.2" y2="975.2" stroke="#6a9a90" stroke-opacity="0.35" stroke-width="1"/>
<line x1="777.2" y1="1017.28" x2="1054.6" y2="1017.28" stroke="#7d8a90" stroke-opacity="0.55" stroke-width="1.3"/>
<line x1="756.3" y1="1017.28" x2="777.2" y2="1017.28" stroke="#6a9a90" stroke-opacity="0.35" stroke-width="1"/>
<line x1="777.2" y1="1059.36" x2="1054.6" y2="1059.36" stroke="#7d8a90" stroke-opacity="0.55" stroke-width="1.3"/>
<line x1="756.3" y1="1059.36" x2="777.2" y2="1059.36" stroke="#6a9a90" stroke-opacity="0.35" stroke-width="1"/>
<line x1="777.2" y1="1101.44" x2="1054.6" y2="1101.44" stroke="#7d8a90" stroke-opacity="0.55" stroke-width="1.3"/>
<line x1="756.3" y1="1101.44" x2="777.2" y2="1101.44" stroke="#6a9a90" stroke-opacity="0.35" stroke-width="1"/>
<line x1="777.2" y1="1143.52" x2="1054.6" y2="1143.52" stroke="#7d8a90" stroke-opacity="0.55" stroke-width="1.3"/>
<line x1="756.3" y1="1143.52" x2="777.2" y2="1143.52" stroke="#6a9a90" stroke-opacity="0.35" stroke-width="1"/>
<line x1="777.2" y1="1185.6" x2="1054.6" y2="1185.6" stroke="#7d8a90" stroke-opacity="0.55" stroke-width="1.3"/>
<line x1="756.3" y1="1185.6" x2="777.2" y2="1185.6" stroke="#6a9a90" stroke-opacity="0.35" stroke-width="1"/>
<line x1="777.2" y1="1227.68" x2="1054.6" y2="1227.68" stroke="#7d8a90" stroke-opacity="0.55" stroke-width="1.3"/>
<line x1="756.3" y1="1227.68" x2="777.2" y2="1227.68" stroke="#6a9a90" stroke-opacity="0.35" stroke-width="1"/>
<line x1="777.2" y1="1269.76" x2="1054.6" y2="1269.76" stroke="#7d8a90" stroke-opacity="0.55" stroke-width="1.3"/>
<line x1="756.3" y1="1269.76" x2="777.2" y2="1269.76" stroke="#6a9a90" stroke-opacity="0.35" stroke-width="1"/>
<line x1="777.2" y1="1311.84" x2="1054.6" y2="1311.84" stroke="#7d8a90" stroke-opacity="0.55" stroke-width="1.3"/>
<line x1="756.3" y1="1311.84" x2="777.2" y2="1311.84" stroke="#6a9a90" stroke-opacity="0.35" stroke-width="1"/>
<line x1="777.2" y1="1353.92" x2="1054.6" y2="1353.92" stroke="#7d8a90" stroke-opacity="0.55" stroke-width="1.3"/>
<line x1="756.3" y1="1353.92" x2="777.2" y2="1353.92" stroke="#6a9a90" stroke-opacity="0.35" stroke-width="1"/>
<line x1="777.2" y1="1396" x2="1054.6" y2="1396" stroke="#7d8a90" stroke-opacity="0.55" stroke-width="1.3"/>
<line x1="756.3" y1="1396" x2="777.2" y2="1396" stroke="#6a9a90" stroke-opacity="0.35" stroke-width="1"/>
<line x1="777.2" y1="1438.08" x2="1054.6" y2="1438.08" stroke="#7d8a90" stroke-opacity="0.55" stroke-width="1.3"/>
<line x1="756.3" y1="1438.08" x2="777.2" y2="1438.08" stroke="#6a9a90" stroke-opacity="0.35" stroke-width="1"/>
<line x1="777.2" y1="1480.16" x2="1054.6" y2="1480.16" stroke="#7d8a90" stroke-opacity="0.55" stroke-width="1.3"/>
<line x1="756.3" y1="1480.16" x2="777.2" y2="1480.16" stroke="#6a9a90" stroke-opacity="0.35" stroke-width="1"/>
<line x1="777.2" y1="1522.24" x2="1054.6" y2="1522.24" stroke="#7d8a90" stroke-opacity="0.55" stroke-width="1.3"/>
<line x1="756.3" y1="1522.24" x2="777.2" y2="1522.24" stroke="#6a9a90" stroke-opacity="0.35" stroke-width="1"/>
<line x1="777.2" y1="1564.32" x2="1054.6" y2="1564.32" stroke="#7d8a90" stroke-opacity="0.55" stroke-width="1.3"/>
<line x1="756.3" y1="1564.32" x2="777.2" y2="1564.32" stroke="#6a9a90" stroke-opacity="0.35" stroke-width="1"/>
<line x1="777.2" y1="1606.4" x2="1054.6" y2="1606.4" stroke="#7d8a90" stroke-opacity="0.55" stroke-width="1.3"/>
<line x1="756.3" y1="1606.4" x2="777.2" y2="1606.4" stroke="#6a9a90" stroke-opacity="0.35" stroke-width="1"/>
<line x1="777.2" y1="1648.48" x2="1054.6" y2="1648.48" stroke="#7d8a90" stroke-opacity="0.55" stroke-width="1.3"/>
<line x1="756.3" y1="1648.48" x2="777.2" y2="1648.48" stroke="#6a9a90" stroke-opacity="0.35" stroke-width="1"/>
<line x1="777.2" y1="1690.56" x2="1054.6" y2="1690.56" stroke="#7d8a90" stroke-opacity="0.55" stroke-width="1.3"/>
<line x1="756.3" y1="1690.56" x2="777.2" y2="1690.56" stroke="#6a9a90" stroke-opacity="0.35" stroke-width="1"/>
<line x1="777.2" y1="1732.64" x2="1054.6" y2="1732.64" stroke="#7d8a90" stroke-opacity="0.55" stroke-width="1.3"/>
<line x1="756.3" y1="1732.64" x2="777.2" y2="1732.64" stroke="#6a9a90" stroke-opacity="0.35" stroke-width="1"/>
<line x1="777.2" y1="1774.72" x2="1054.6" y2="1774.72" stroke="#7d8a90" stroke-opacity="0.55" stroke-width="1.3"/>
<line x1="756.3" y1="1774.72" x2="777.2" y2="1774.72" stroke="#6a9a90" stroke-opacity="0.35" stroke-width="1"/>
<line x1="777.2" y1="1816.8" x2="1054.6" y2="1816.8" stroke="#7d8a90" stroke-opacity="0.55" stroke-width="1.3"/>
<line x1="756.3" y1="1816.8" x2="777.2" y2="1816.8" stroke="#6a9a90" stroke-opacity="0.35" stroke-width="1"/>
<line x1="777.2" y1="1858.88" x2="1054.6" y2="1858.88" stroke="#7d8a90" stroke-opacity="0.55" stroke-width="1.3"/>
<line x1="756.3" y1="1858.88" x2="777.2" y2="1858.88" stroke="#6a9a90" stroke-opacity="0.35" stroke-width="1"/>
<line x1="777.2" y1="1900.96" x2="1054.6" y2="1900.96" stroke="#7d8a90" stroke-opacity="0.55" stroke-width="1.3"/>
<line x1="756.3" y1="1900.96" x2="777.2" y2="1900.96" stroke="#6a9a90" stroke-opacity="0.35" stroke-width="1"/>
<line x1="777.2" y1="1943.04" x2="1054.6" y2="1943.04" stroke="#7d8a90" stroke-opacity="0.55" stroke-width="1.3"/>
<line x1="756.3" y1="1943.04" x2="777.2" y2="1943.04" stroke="#6a9a90" stroke-opacity="0.35" stroke-width="1"/>
<line x1="777.2" y1="1985.12" x2="1054.6" y2="1985.12" stroke="#7d8a90" stroke-opacity="0.55" stroke-width="1.3"/>
<line x1="756.3" y1="1985.12" x2="777.2" y2="1985.12" stroke="#6a9a90" stroke-opacity="0.35" stroke-width="1"/>
<line x1="846.3" y1="554.4" x2="846.3" y2="2027.2" stroke="#8a9090" stroke-opacity="0.3" stroke-width="0.8"/>
<line x1="915.6" y1="554.4" x2="915.6" y2="2027.2" stroke="#8a9090" stroke-opacity="0.3" stroke-width="0.8"/>
<line x1="985.3" y1="554.4" x2="985.3" y2="2027.2" stroke="#8a9090" stroke-opacity="0.3" stroke-width="0.8"/>
<line x1="777.5" y1="554.4" x2="777.5" y2="2027.2" stroke="#fff" stroke-opacity="0.6" stroke-width="1"/>
<path d="M756 617.52H752.4V659.6H756" fill="none" stroke="#2a2a2a" stroke-width="1.45"/>
<path d="M756 575.44H735V638.56H752.4" fill="none" stroke="#2a2a2a" stroke-width="1.45"/>
<path d="M756 743.76H752.4V785.84H756" fill="none" stroke="#2a2a2a" stroke-width="1.45"/>
<path d="M756 701.68H730.5V764.8H752.4" fill="none" stroke="#2a2a2a" stroke-width="1.45"/>
<path d="M735 607H705.1V733.24H730.5" fill="none" stroke="#2a2a2a" stroke-width="1.45"/>
<path d="M756 870H741.5V912.08H756" fill="none" stroke="#2a2a2a" stroke-width="1.45"/>
<path d="M756 827.92H718.2V891.04H741.5" fill="none" stroke="#2a2a2a" stroke-width="1.45"/>
<path d="M756 1080.4H750.9V1122.48H756" fill="none" stroke="#2a2a2a" stroke-width="1.45"/>
<path d="M756 1038.32H746.1V1101.44H750.9" fill="none" stroke="#2a2a2a" stroke-width="1.45"/>
<path d="M756 996.24H733.6V1069.88H746.1" fill="none" stroke="#2a2a2a" stroke-width="1.45"/>
<path d="M756 954.16H729.1V1033.06H733.6" fill="none" stroke="#2a2a2a" stroke-width="1.45"/>
<path d="M756 1164.56H724.7V1206.64H756" fill="none" stroke="#2a2a2a" stroke-width="1.45"/>
<path d="M729.1 993.61H710.8V1185.6H724.7" fill="none" stroke="#2a2a2a" stroke-width="1.45"/>
<path d="M718.2 859.48H674.6V1089.61H710.8" fill="none" stroke="#2a2a2a" stroke-width="1.45"/>
<path d="M705.1 670.12H662V974.54H674.6" fill="none" stroke="#2a2a2a" stroke-width="1.45"/>
<path d="M756 1332.88H742.6V1374.96H756" fill="none" stroke="#2a2a2a" stroke-width="1.45"/>
<path d="M756 1290.8H738.5V1353.92H742.6" fill="none" stroke="#2a2a2a" stroke-width="1.45"/>
<path d="M756 1248.72H717.7V1322.36H738.5" fill="none" stroke="#2a2a2a" stroke-width="1.45"/>
<path d="M756 1459.12H743.3V1501.2H756" fill="none" stroke="#2a2a2a" stroke-width="1.45"/>
<path d="M756 1417.04H729.5V1480.16H743.3" fill="none" stroke="#2a2a2a" stroke-width="1.45"/>
<path d="M756 1627.44H748.9V1669.52H756" fill="none" stroke="#2a2a2a" stroke-width="1.45"/>
<path d="M756 1585.36H737.8V1648.48H748.9" fill="none" stroke="#2a2a2a" stroke-width="1.45"/>
<path d="M756 1543.28H723.3V1616.92H737.8" fill="none" stroke="#2a2a2a" stroke-width="1.45"/>
<path d="M729.5 1448.6H717.7V1580.1H723.3" fill="none" stroke="#2a2a2a" stroke-width="1.45"/>
<path d="M717.7 1285.54H686.6V1514.35H717.7" fill="none" stroke="#2a2a2a" stroke-width="1.45"/>
<path d="M756 1753.68H753.9V1795.76H756" fill="none" stroke="#2a2a2a" stroke-width="1.45"/>
<path d="M756 1837.84H745.3V1879.92H756" fill="none" stroke="#2a2a2a" stroke-width="1.45"/>
<path d="M753.9 1774.72H738.4V1858.88H745.3" fill="none" stroke="#2a2a2a" stroke-width="1.45"/>
<path d="M756 1711.6H724.2V1816.8H738.4" fill="none" stroke="#2a2a2a" stroke-width="1.45"/>
<path d="M756 1964.08H736.7V2006.16H756" fill="none" stroke="#2a2a2a" stroke-width="1.45"/>
<path d="M756 1922H721.2V1985.12H736.7" fill="none" stroke="#2a2a2a" stroke-width="1.45"/>
<path d="M724.2 1764.2H683.5V1953.56H721.2" fill="none" stroke="#2a2a2a" stroke-width="1.45"/>
<path d="M686.6 1399.94H660.4V1858.88H683.5" fill="none" stroke="#2a2a2a" stroke-width="1.45"/>
<path d="M662 822.33H658.6V1629.41H660.4" fill="none" stroke="#2a2a2a" stroke-width="2"/>
<rect x="665.6" y="555.1" width="390.7" height="251.1" fill="none" stroke="#EC1C24" stroke-width="5.6"/>
<rect x="665.6" y="815.3" width="390.7" height="399.8" fill="none" stroke="#EC1C24" stroke-width="5.6"/>
<rect x="665.6" y="1224.3" width="390.7" height="455.5" fill="none" stroke="#EC1C24" stroke-width="5.6"/>
<rect x="665.6" y="1688.3" width="390.7" height="339.9" fill="none" stroke="#EC1C24" stroke-width="5.6"/>
<text x="678" y="797.2" font-family="Liberation Sans" font-size="33.5" fill="#EC1C24" textLength="16" lengthAdjust="spacingAndGlyphs">1</text>
<text x="677.5" y="1204.1" font-family="Liberation Sans" font-size="33.5" fill="#EC1C24" textLength="16" lengthAdjust="spacingAndGlyphs">2</text>
<text x="677" y="1668.4" font-family="Liberation Sans" font-size="33.5" fill="#EC1C24" textLength="16" lengthAdjust="spacingAndGlyphs">3</text>
<text x="676.5" y="2013.9" font-family="Liberation Sans" font-size="33.5" fill="#EC1C24" textLength="16" lengthAdjust="spacingAndGlyphs">4</text>
<text x="1064" y="585.44" font-family="Liberation Sans" font-size="19.8" font-weight="normal" fill="#111" text-anchor="start" >Enterorhabdus</text>
<text x="1064" y="627.52" font-family="Liberation Sans" font-size="19.8" font-weight="normal" fill="#111" text-anchor="start" >Tyzzerella</text>
<text x="1064" y="669.6" font-family="Liberation Sans" font-size="19.8" font-weight="normal" fill="#111" text-anchor="start" >Alistipes</text>
<text x="1064" y="711.68" font-family="Liberation Sans" font-size="19.8" font-weight="normal" fill="#111" text-anchor="start" >Pseudomonas</text>
<text x="1064" y="753.76" font-family="Liberation Sans" font-size="19.8" font-weight="normal" fill="#111" text-anchor="start" >Romboutsia</text>
<text x="1064" y="795.84" font-family="Liberation Sans" font-size="19.8" font-weight="normal" fill="#111" text-anchor="start" >Anaeroplasma</text>
<text x="1064" y="837.92" font-family="Liberation Sans" font-size="19.8" font-weight="normal" fill="#111" text-anchor="start" >Parasutterella</text>
<text x="1064" y="880" font-family="Liberation Sans" font-size="19.8" font-weight="normal" fill="#111" text-anchor="start" >Rikenella</text>
<text x="1064" y="922.08" font-family="Liberation Sans" font-size="19.8" font-weight="normal" fill="#111" text-anchor="start" >Turicibacter</text>
<text x="1064" y="964.16" font-family="Liberation Sans" font-size="19.8" font-weight="normal" fill="#111" text-anchor="start" >Muribaculum</text>
<text x="1064" y="1006.24" font-family="Liberation Sans" font-size="19.8" font-weight="normal" fill="#111" text-anchor="start" >Faecalibaculum</text>
<text x="1064" y="1048.32" font-family="Liberation Sans" font-size="19.8" font-weight="normal" fill="#111" text-anchor="start" >Lactobacillus</text>
<text x="1064" y="1090.4" font-family="Liberation Sans" font-size="19.8" font-weight="normal" fill="#111" text-anchor="start" >Alloprevotella</text>
<text x="1064" y="1132.48" font-family="Liberation Sans" font-size="19.8" font-weight="normal" fill="#111" text-anchor="start" >unidentified_Clostridiales</text>
<text x="1064" y="1174.56" font-family="Liberation Sans" font-size="19.8" font-weight="normal" fill="#111" text-anchor="start" >Bifidobacterium</text>
<text x="1064" y="1216.64" font-family="Liberation Sans" font-size="19.8" font-weight="normal" fill="#111" text-anchor="start" >Parabacteroides</text>
<text x="1064" y="1258.72" font-family="Liberation Sans" font-size="19.8" font-weight="normal" fill="#111" text-anchor="start" >unidentified_Ruminococcaceae</text>
<text x="1064" y="1300.8" font-family="Liberation Sans" font-size="19.8" font-weight="normal" fill="#111" text-anchor="start" >Blautia</text>
<text x="1064" y="1342.88" font-family="Liberation Sans" font-size="19.8" font-weight="normal" fill="#111" text-anchor="start" >Ruminiclostridium</text>
<text x="1064" y="1384.96" font-family="Liberation Sans" font-size="19.8" font-weight="normal" fill="#111" text-anchor="start" >unidentified_Lachnospiraceae</text>
<text x="1064" y="1427.04" font-family="Liberation Sans" font-size="19.8" font-weight="normal" fill="#111" text-anchor="start" >Helicobacter</text>
<text x="1064" y="1469.12" font-family="Liberation Sans" font-size="19.8" font-weight="normal" fill="#111" text-anchor="start" >Lachnoclostridium</text>
<text x="1064" y="1511.2" font-family="Liberation Sans" font-size="19.8" font-weight="normal" fill="#111" text-anchor="start" >Roseburia</text>
<text x="1064" y="1553.28" font-family="Liberation Sans" font-size="19.8" font-weight="normal" fill="#111" text-anchor="start" >Dubosiella</text>
<text x="1064" y="1595.36" font-family="Liberation Sans" font-size="19.8" font-weight="normal" fill="#111" text-anchor="start" >Oscillibacter</text>
<text x="1064" y="1637.44" font-family="Liberation Sans" font-size="19.8" font-weight="normal" fill="#111" text-anchor="start" >Acetatifactor</text>
<text x="1064" y="1679.52" font-family="Liberation Sans" font-size="19.8" font-weight="normal" fill="#111" text-anchor="start" >Anaerostipes</text>
<text x="1064" y="1721.6" font-family="Liberation Sans" font-size="19.8" font-weight="normal" fill="#111" text-anchor="start" >Mucispirillum</text>
<text x="1064" y="1763.68" font-family="Liberation Sans" font-size="19.8" font-weight="normal" fill="#111" text-anchor="start" >Bacteroides</text>
<text x="1064" y="1805.76" font-family="Liberation Sans" font-size="19.8" font-weight="normal" fill="#111" text-anchor="start" >Odoribacter</text>
<text x="1064" y="1847.84" font-family="Liberation Sans" font-size="19.8" font-weight="normal" fill="#111" text-anchor="start" >Anaerotruncus</text>
<text x="1064" y="1889.92" font-family="Liberation Sans" font-size="19.8" font-weight="normal" fill="#111" text-anchor="start" >Marvinbryantia</text>
<text x="1064" y="1932" font-family="Liberation Sans" font-size="19.8" font-weight="normal" fill="#111" text-anchor="start" >Butyricicoccus</text>
<text x="1064" y="1974.08" font-family="Liberation Sans" font-size="19.8" font-weight="normal" fill="#111" text-anchor="start" >Akkermansia</text>
<text x="1064" y="2016.16" font-family="Liberation Sans" font-size="19.8" font-weight="normal" fill="#111" text-anchor="start" >unidentified_Cyanobacteria</text>
<text transform="translate(806.2 2032.7) rotate(90)" font-family="Liberation Sans" font-size="19" fill="#111" x="0" y="0" textLength="24.5" lengthAdjust="spacingAndGlyphs">WT</text>
<text transform="translate(874.4 2035.5) rotate(90)" font-family="Liberation Sans" font-size="19" fill="#111" x="0" y="0" textLength="19.5" lengthAdjust="spacingAndGlyphs">OB</text>
<text transform="translate(942.9 2032.7) rotate(90)" font-family="Liberation Sans" font-size="19" fill="#111" x="0" y="0" textLength="61.5" lengthAdjust="spacingAndGlyphs">WT-CLA</text>
<text transform="translate(1012.4 2034.5) rotate(90)" font-family="Liberation Sans" font-size="19" fill="#111" x="0" y="0" textLength="59.5" lengthAdjust="spacingAndGlyphs">OB-CLA</text>
<text transform="translate(760.2 2032.7) rotate(90)" font-family="Liberation Sans" font-size="21" font-weight="bold" fill="#111" x="0" y="0" textLength="62.5" lengthAdjust="spacingAndGlyphs">Phylun</text>
<rect x="1219.1" y="565.6" width="6.8" height="100.6" fill="url(#ckey)"/>
<text x="1229.6" y="587.3" font-family="Liberation Sans" font-size="12.2" font-weight="normal" fill="#333" text-anchor="start" >1</text>
<text x="1229.6" y="604.2" font-family="Liberation Sans" font-size="12.2" font-weight="normal" fill="#333" text-anchor="start" >0.5</text>
<text x="1229.6" y="620.4" font-family="Liberation Sans" font-size="12.2" font-weight="normal" fill="#333" text-anchor="start" >0</text>
<text x="1229.6" y="637.4" font-family="Liberation Sans" font-size="12.2" font-weight="normal" fill="#333" text-anchor="start" >−0.5</text>
<text x="1229.6" y="654.3" font-family="Liberation Sans" font-size="12.2" font-weight="normal" fill="#333" text-anchor="start" >−1</text>
<text x="1262.5" y="575" font-family="Liberation Sans" font-size="13.85" font-weight="bold" fill="#111" text-anchor="start" >Phylum</text>
<rect x="1263" y="580.3" width="19.2" height="19.5" fill="#DA8CC6"/>
<text x="1286.3" y="594.8" font-family="Liberation Sans" font-size="13.5" font-weight="normal" fill="#111" text-anchor="start" >Actinobacteria</text>
<rect x="1263" y="599.61" width="19.2" height="19.5" fill="#3DC3EC"/>
<text x="1286.3" y="614.11" font-family="Liberation Sans" font-size="13.5" font-weight="normal" fill="#111" text-anchor="start" >Bacteroidetes</text>
<rect x="1263" y="618.92" width="19.2" height="19.5" fill="#F0A623"/>
<text x="1286.3" y="633.42" font-family="Liberation Sans" font-size="13.5" font-weight="normal" fill="#111" text-anchor="start" >Cyanobacteria</text>
<rect x="1263" y="638.23" width="19.2" height="19.5" fill="#8DAADC"/>
<text x="1286.3" y="652.73" font-family="Liberation Sans" font-size="13.5" font-weight="normal" fill="#111" text-anchor="start" >Deferribacteres</text>
<rect x="1263" y="657.54" width="19.2" height="19.5" fill="#3DB9A6"/>
<text x="1286.3" y="672.04" font-family="Liberation Sans" font-size="13.5" font-weight="normal" fill="#111" text-anchor="start" >Firmicutes</text>
<rect x="1263" y="676.85" width="19.2" height="19.5" fill="#4BB54F"/>
<text x="1286.3" y="691.35" font-family="Liberation Sans" font-size="13.5" font-weight="normal" fill="#111" text-anchor="start" >Proteobacteria</text>
<rect x="1263" y="696.16" width="19.2" height="19.5" fill="#D28CC8"/>
<text x="1286.3" y="710.66" font-family="Liberation Sans" font-size="13.5" font-weight="normal" fill="#111" text-anchor="start" >Tenericutes</text>
<rect x="1263" y="715.47" width="19.2" height="19.5" fill="#A8C43A"/>
<text x="1286.3" y="729.97" font-family="Liberation Sans" font-size="13.5" font-weight="normal" fill="#111" text-anchor="start" >unidentified_Bacteria</text>
<rect x="1263" y="734.78" width="19.2" height="19.5" fill="#F08888"/>
<text x="1286.3" y="749.28" font-family="Liberation Sans" font-size="13.5" font-weight="normal" fill="#111" text-anchor="start" >Verrucomicrobia</text>
</g>
<text transform="translate(674 546.9) scale(0.97 1)" font-family="Liberation Sans" font-size="41.5" fill="#000">d</text>
<g>
<line x1="112.8" y1="1063.8" x2="112.8" y2="1336.4" stroke="#111" stroke-width="1.9"/>
<line x1="111.9" y1="1335.5" x2="439.2" y2="1335.5" stroke="#111" stroke-width="1.9"/>
<line x1="109.2" y1="1064.8" x2="112.8" y2="1064.8" stroke="#111" stroke-width="1.6"/>
<text x="92.2" y="1071.2" font-family="Liberation Sans" font-size="17.2" font-weight="bold" fill="#111" text-anchor="end" >10</text>
<text x="95.9" y="1065.4" font-family="Liberation Sans" font-size="11" font-weight="bold" fill="#111" text-anchor="start" textLength="10.8" lengthAdjust="spacingAndGlyphs">-3</text>
<line x1="109.2" y1="1118.94" x2="112.8" y2="1118.94" stroke="#111" stroke-width="1.6"/>
<text x="92.2" y="1125.34" font-family="Liberation Sans" font-size="17.2" font-weight="bold" fill="#111" text-anchor="end" >10</text>
<text x="95.9" y="1119.54" font-family="Liberation Sans" font-size="11" font-weight="bold" fill="#111" text-anchor="start" textLength="10.8" lengthAdjust="spacingAndGlyphs">-4</text>
<line x1="109.2" y1="1173.08" x2="112.8" y2="1173.08" stroke="#111" stroke-width="1.6"/>
<text x="92.2" y="1179.48" font-family="Liberation Sans" font-size="17.2" font-weight="bold" fill="#111" text-anchor="end" >10</text>
<text x="95.9" y="1173.68" font-family="Liberation Sans" font-size="11" font-weight="bold" fill="#111" text-anchor="start" textLength="10.8" lengthAdjust="spacingAndGlyphs">-5</text>
<line x1="109.2" y1="1227.22" x2="112.8" y2="1227.22" stroke="#111" stroke-width="1.6"/>
<text x="92.2" y="1233.62" font-family="Liberation Sans" font-size="17.2" font-weight="bold" fill="#111" text-anchor="end" >10</text>
<text x="95.9" y="1227.82" font-family="Liberation Sans" font-size="11" font-weight="bold" fill="#111" text-anchor="start" textLength="10.8" lengthAdjust="spacingAndGlyphs">-6</text>
<line x1="109.2" y1="1281.36" x2="112.8" y2="1281.36" stroke="#111" stroke-width="1.6"/>
<text x="92.2" y="1287.76" font-family="Liberation Sans" font-size="17.2" font-weight="bold" fill="#111" text-anchor="end" >10</text>
<text x="95.9" y="1281.96" font-family="Liberation Sans" font-size="11" font-weight="bold" fill="#111" text-anchor="start" textLength="10.8" lengthAdjust="spacingAndGlyphs">-7</text>
<line x1="109.2" y1="1335.5" x2="112.8" y2="1335.5" stroke="#111" stroke-width="1.6"/>
<text x="92.2" y="1341.9" font-family="Liberation Sans" font-size="17.2" font-weight="bold" fill="#111" text-anchor="end" >10</text>
<text x="95.9" y="1336.1" font-family="Liberation Sans" font-size="11" font-weight="bold" fill="#111" text-anchor="start" textLength="10.8" lengthAdjust="spacingAndGlyphs">-8</text>
<line x1="163.7" y1="1335.5" x2="163.7" y2="1341" stroke="#111" stroke-width="1.6"/>
<text x="163.7" y="1358.2" font-family="Liberation Sans" font-size="20.9" font-weight="bold" fill="#111" text-anchor="middle" >WT</text>
<line x1="238.3" y1="1335.5" x2="238.3" y2="1341" stroke="#111" stroke-width="1.6"/>
<text x="238.3" y="1358.2" font-family="Liberation Sans" font-size="20.9" font-weight="bold" fill="#111" text-anchor="middle" >WT-CLA</text>
<line x1="313.5" y1="1335.5" x2="313.5" y2="1341" stroke="#111" stroke-width="1.6"/>
<text x="313.5" y="1358.2" font-family="Liberation Sans" font-size="20.9" font-weight="bold" fill="#111" text-anchor="middle" >OB</text>
<line x1="388.3" y1="1335.5" x2="388.3" y2="1341" stroke="#111" stroke-width="1.6"/>
<text x="388.3" y="1358.2" font-family="Liberation Sans" font-size="20.9" font-weight="bold" fill="#111" text-anchor="middle" >OB-CLA</text>
<path d="M153.4 1132.9H174 M163.7 1132.9V1185.9 M163.7 1271.2V1315.4 M153.4 1315.4H174" fill="none" stroke="#111111" stroke-width="2.9"/>
<rect x="140.4" y="1185.9" width="46.6" height="85.3" fill="none" stroke="#111111" stroke-width="2.9"/>
<line x1="140.4" y1="1245.7" x2="187" y2="1245.7" stroke="#111111" stroke-width="2.9"/>
<path d="M228 1137.8H248.6 M238.3 1137.8V1152 M238.3 1187.5V1191.2 M228 1191.2H248.6" fill="none" stroke="#62BB46" stroke-width="2.9"/>
<rect x="215" y="1152" width="46.6" height="35.5" fill="none" stroke="#62BB46" stroke-width="2.9"/>
<line x1="215" y1="1176" x2="261.6" y2="1176" stroke="#62BB46" stroke-width="2.9"/>
<path d="M303.2 1078.4H323.8 M313.5 1078.4V1081.5 M313.5 1101.6V1119.3 M303.2 1119.3H323.8" fill="none" stroke="#E8202A" stroke-width="2.9"/>
<rect x="290.2" y="1081.5" width="46.6" height="20.1" fill="none" stroke="#E8202A" stroke-width="2.9"/>
<line x1="290.2" y1="1091.7" x2="336.8" y2="1091.7" stroke="#E8202A" stroke-width="2.9"/>
<path d="M378 1178.9H398.6 M388.3 1178.9V1197.3 M388.3 1245V1267.4 M378 1267.4H398.6" fill="none" stroke="#3A4FAA" stroke-width="2.9"/>
<rect x="365" y="1197.3" width="46.6" height="47.7" fill="none" stroke="#3A4FAA" stroke-width="2.9"/>
<line x1="365" y1="1232.1" x2="411.6" y2="1232.1" stroke="#3A4FAA" stroke-width="2.9"/>
<polygon points="312.8,1063.7 313.92,1066.46 316.89,1066.67 314.61,1068.59 315.33,1071.48 312.8,1069.9 310.27,1071.48 310.99,1068.59 308.71,1066.67 311.68,1066.46" fill="#111" stroke="#111" stroke-width="0.5" stroke-linejoin="round"/>
<text x="388" y="1173.6" font-family="Liberation Sans" font-size="13.8" font-weight="normal" fill="#111" text-anchor="middle" >&amp;</text>
<text x="276.8" y="1032.9" font-family="Liberation Sans" font-size="25.5" font-weight="bold" font-style="italic" fill="#111" text-anchor="middle" textLength="122.4" lengthAdjust="spacingAndGlyphs">Tyzzerella</text>
<text transform="translate(63.3 1191.2) rotate(-90)" font-family="Liberation Sans" font-size="28.5" font-weight="bold" fill="#111" text-anchor="middle" textLength="246.4" lengthAdjust="spacingAndGlyphs">Relative abundance</text>
</g>
<text transform="translate(-0.5 1048.6) scale(1 1)" font-family="Liberation Sans" font-size="41.5" fill="#000">e</text>
<g>
<line x1="112.8" y1="1435.5" x2="112.8" y2="1706.4" stroke="#111" stroke-width="1.9"/>
<line x1="111.9" y1="1705.5" x2="437.6" y2="1705.5" stroke="#111" stroke-width="1.9"/>
<line x1="109.2" y1="1436.5" x2="112.8" y2="1436.5" stroke="#111" stroke-width="1.6"/>
<text x="92.2" y="1442.9" font-family="Liberation Sans" font-size="17.2" font-weight="bold" fill="#111" text-anchor="end" >10</text>
<text x="95.9" y="1437.1" font-family="Liberation Sans" font-size="11" font-weight="bold" fill="#111" text-anchor="start" textLength="10.8" lengthAdjust="spacingAndGlyphs">-2</text>
<line x1="109.2" y1="1503.75" x2="112.8" y2="1503.75" stroke="#111" stroke-width="1.6"/>
<text x="92.2" y="1510.15" font-family="Liberation Sans" font-size="17.2" font-weight="bold" fill="#111" text-anchor="end" >10</text>
<text x="95.9" y="1504.35" font-family="Liberation Sans" font-size="11" font-weight="bold" fill="#111" text-anchor="start" textLength="10.8" lengthAdjust="spacingAndGlyphs">-3</text>
<line x1="109.2" y1="1571" x2="112.8" y2="1571" stroke="#111" stroke-width="1.6"/>
<text x="92.2" y="1577.4" font-family="Liberation Sans" font-size="17.2" font-weight="bold" fill="#111" text-anchor="end" >10</text>
<text x="95.9" y="1571.6" font-family="Liberation Sans" font-size="11" font-weight="bold" fill="#111" text-anchor="start" textLength="10.8" lengthAdjust="spacingAndGlyphs">-4</text>
<line x1="109.2" y1="1638.25" x2="112.8" y2="1638.25" stroke="#111" stroke-width="1.6"/>
<text x="92.2" y="1644.65" font-family="Liberation Sans" font-size="17.2" font-weight="bold" fill="#111" text-anchor="end" >10</text>
<text x="95.9" y="1638.85" font-family="Liberation Sans" font-size="11" font-weight="bold" fill="#111" text-anchor="start" textLength="10.8" lengthAdjust="spacingAndGlyphs">-5</text>
<line x1="109.2" y1="1705.5" x2="112.8" y2="1705.5" stroke="#111" stroke-width="1.6"/>
<text x="92.2" y="1711.9" font-family="Liberation Sans" font-size="17.2" font-weight="bold" fill="#111" text-anchor="end" >10</text>
<text x="95.9" y="1706.1" font-family="Liberation Sans" font-size="11" font-weight="bold" fill="#111" text-anchor="start" textLength="10.8" lengthAdjust="spacingAndGlyphs">-6</text>
<line x1="163.2" y1="1705.5" x2="163.2" y2="1711" stroke="#111" stroke-width="1.6"/>
<text x="163.2" y="1727.5" font-family="Liberation Sans" font-size="20.9" font-weight="bold" fill="#111" text-anchor="middle" >WT</text>
<line x1="237.4" y1="1705.5" x2="237.4" y2="1711" stroke="#111" stroke-width="1.6"/>
<text x="237.4" y="1727.5" font-family="Liberation Sans" font-size="20.9" font-weight="bold" fill="#111" text-anchor="middle" >WT-CLA</text>
<line x1="312.8" y1="1705.5" x2="312.8" y2="1711" stroke="#111" stroke-width="1.6"/>
<text x="312.8" y="1727.5" font-family="Liberation Sans" font-size="20.9" font-weight="bold" fill="#111" text-anchor="middle" >OB</text>
<line x1="387.5" y1="1705.5" x2="387.5" y2="1711" stroke="#111" stroke-width="1.6"/>
<text x="387.5" y="1727.5" font-family="Liberation Sans" font-size="20.9" font-weight="bold" fill="#111" text-anchor="middle" >OB-CLA</text>
<path d="M152.9 1534.3H173.5 M163.2 1534.3V1594.2 M163.2 1670.3V1689.3 M152.9 1689.3H173.5" fill="none" stroke="#111111" stroke-width="2.9"/>
<rect x="139.9" y="1594.2" width="46.6" height="76.1" fill="none" stroke="#111111" stroke-width="2.9"/>
<line x1="139.9" y1="1648.1" x2="186.5" y2="1648.1" stroke="#111111" stroke-width="2.9"/>
<path d="M227.1 1578.4H247.7 M237.4 1578.4V1581.2 M237.4 1618.1V1663 M227.1 1663H247.7" fill="none" stroke="#62BB46" stroke-width="2.9"/>
<rect x="214.1" y="1581.2" width="46.6" height="36.9" fill="none" stroke="#62BB46" stroke-width="2.9"/>
<line x1="214.1" y1="1592.7" x2="260.7" y2="1592.7" stroke="#62BB46" stroke-width="2.9"/>
<path d="M302.5 1456.9H323.1 M312.8 1456.9V1462.2 M312.8 1500.8V1509.4 M302.5 1509.4H323.1" fill="none" stroke="#E8202A" stroke-width="2.9"/>
<rect x="289.5" y="1462.2" width="46.6" height="38.6" fill="none" stroke="#E8202A" stroke-width="2.9"/>
<line x1="289.5" y1="1485.1" x2="336.1" y2="1485.1" stroke="#E8202A" stroke-width="2.9"/>
<path d="M377.2 1535.3H397.8 M387.5 1535.3V1558.5 M387.5 1628.2V1663.4 M377.2 1663.4H397.8" fill="none" stroke="#3A4FAA" stroke-width="2.9"/>
<rect x="364.2" y="1558.5" width="46.6" height="69.7" fill="none" stroke="#3A4FAA" stroke-width="2.9"/>
<line x1="364.2" y1="1578.4" x2="410.8" y2="1578.4" stroke="#3A4FAA" stroke-width="2.9"/>
<polygon points="308.2,1442.8 309.32,1445.56 312.29,1445.77 310.01,1447.69 310.73,1450.58 308.2,1449 305.67,1450.58 306.39,1447.69 304.11,1445.77 307.08,1445.56" fill="#111" stroke="#111" stroke-width="0.5" stroke-linejoin="round"/>
<polygon points="317.4,1442.8 318.52,1445.56 321.49,1445.77 319.21,1447.69 319.93,1450.58 317.4,1449 314.87,1450.58 315.59,1447.69 313.31,1445.77 316.28,1445.56" fill="#111" stroke="#111" stroke-width="0.5" stroke-linejoin="round"/>
<text x="386.7" y="1529" font-family="Liberation Sans" font-size="13.8" font-weight="normal" fill="#111" text-anchor="middle" >&amp;</text>
<text x="275.1" y="1404.5" font-family="Liberation Sans" font-size="25.5" font-weight="bold" font-style="italic" fill="#111" text-anchor="middle" textLength="115.8" lengthAdjust="spacingAndGlyphs">Alistipes</text>
<text transform="translate(60.1 1563.7) rotate(-90)" font-family="Liberation Sans" font-size="28.5" font-weight="bold" fill="#111" text-anchor="middle" textLength="260.9" lengthAdjust="spacingAndGlyphs">Relative abundance</text>
</g>
<text transform="translate(1.3 1402.4) scale(1.1 0.87)" font-family="Liberation Sans" font-size="41.5" fill="#000">f</text>
<g>
<line x1="112.8" y1="1805.5" x2="112.8" y2="2074.1" stroke="#111" stroke-width="1.9"/>
<line x1="111.9" y1="2073.2" x2="433.7" y2="2073.2" stroke="#111" stroke-width="1.9"/>
<line x1="109.2" y1="1806.5" x2="112.8" y2="1806.5" stroke="#111" stroke-width="1.6"/>
<text x="92.2" y="1812.9" font-family="Liberation Sans" font-size="17.2" font-weight="bold" fill="#111" text-anchor="end" >10</text>
<text x="95.9" y="1807.1" font-family="Liberation Sans" font-size="11" font-weight="bold" fill="#111" text-anchor="start" textLength="10.8" lengthAdjust="spacingAndGlyphs">-2</text>
<line x1="109.2" y1="1873.17" x2="112.8" y2="1873.17" stroke="#111" stroke-width="1.6"/>
<text x="92.2" y="1879.58" font-family="Liberation Sans" font-size="17.2" font-weight="bold" fill="#111" text-anchor="end" >10</text>
<text x="95.9" y="1873.77" font-family="Liberation Sans" font-size="11" font-weight="bold" fill="#111" text-anchor="start" textLength="10.8" lengthAdjust="spacingAndGlyphs">-3</text>
<line x1="109.2" y1="1939.85" x2="112.8" y2="1939.85" stroke="#111" stroke-width="1.6"/>
<text x="92.2" y="1946.25" font-family="Liberation Sans" font-size="17.2" font-weight="bold" fill="#111" text-anchor="end" >10</text>
<text x="95.9" y="1940.45" font-family="Liberation Sans" font-size="11" font-weight="bold" fill="#111" text-anchor="start" textLength="10.8" lengthAdjust="spacingAndGlyphs">-4</text>
<line x1="109.2" y1="2006.52" x2="112.8" y2="2006.52" stroke="#111" stroke-width="1.6"/>
<text x="92.2" y="2012.92" font-family="Liberation Sans" font-size="17.2" font-weight="bold" fill="#111" text-anchor="end" >10</text>
<text x="95.9" y="2007.12" font-family="Liberation Sans" font-size="11" font-weight="bold" fill="#111" text-anchor="start" textLength="10.8" lengthAdjust="spacingAndGlyphs">-5</text>
<line x1="109.2" y1="2073.2" x2="112.8" y2="2073.2" stroke="#111" stroke-width="1.6"/>
<text x="92.2" y="2079.6" font-family="Liberation Sans" font-size="17.2" font-weight="bold" fill="#111" text-anchor="end" >10</text>
<text x="95.9" y="2073.8" font-family="Liberation Sans" font-size="11" font-weight="bold" fill="#111" text-anchor="start" textLength="10.8" lengthAdjust="spacingAndGlyphs">-6</text>
<line x1="162.2" y1="2073.2" x2="162.2" y2="2078.7" stroke="#111" stroke-width="1.6"/>
<text x="162.2" y="2096" font-family="Liberation Sans" font-size="20.9" font-weight="bold" fill="#111" text-anchor="middle" >WT</text>
<line x1="237" y1="2073.2" x2="237" y2="2078.7" stroke="#111" stroke-width="1.6"/>
<text x="237" y="2096" font-family="Liberation Sans" font-size="20.9" font-weight="bold" fill="#111" text-anchor="middle" >WT-CLA</text>
<line x1="310.4" y1="2073.2" x2="310.4" y2="2078.7" stroke="#111" stroke-width="1.6"/>
<text x="310.4" y="2096" font-family="Liberation Sans" font-size="20.9" font-weight="bold" fill="#111" text-anchor="middle" >OB</text>
<line x1="384.6" y1="2073.2" x2="384.6" y2="2078.7" stroke="#111" stroke-width="1.6"/>
<text x="384.6" y="2096" font-family="Liberation Sans" font-size="20.9" font-weight="bold" fill="#111" text-anchor="middle" >OB-CLA</text>
<path d="M151.9 1943.6H172.5 M162.2 1943.6V1992.4 M162.2 2018.9V2030.1 M151.9 2030.1H172.5" fill="none" stroke="#111111" stroke-width="2.9"/>
<rect x="138.9" y="1992.4" width="46.6" height="26.5" fill="none" stroke="#111111" stroke-width="2.9"/>
<line x1="138.9" y1="2009.7" x2="185.5" y2="2009.7" stroke="#111111" stroke-width="2.9"/>
<path d="M226.7 1881.7H247.3 M237 1881.7V1910.7 M237 1959.9V1982.1 M226.7 1982.1H247.3" fill="none" stroke="#62BB46" stroke-width="2.9"/>
<rect x="213.7" y="1910.7" width="46.6" height="49.2" fill="none" stroke="#62BB46" stroke-width="2.9"/>
<line x1="213.7" y1="1921.5" x2="260.3" y2="1921.5" stroke="#62BB46" stroke-width="2.9"/>
<path d="M300.1 1988.6H320.7 M310.4 1988.6V2016 M310.4 2061.1V2072.3 M300.1 2072.3H320.7" fill="none" stroke="#E8202A" stroke-width="2.9"/>
<rect x="287.1" y="2016" width="46.6" height="45.1" fill="none" stroke="#E8202A" stroke-width="2.9"/>
<line x1="287.1" y1="2032.7" x2="333.7" y2="2032.7" stroke="#E8202A" stroke-width="2.9"/>
<path d="M374.3 1826.9H394.9 M384.6 1826.9V1844.2 M384.6 1914.5V1923.8 M374.3 1923.8H394.9" fill="none" stroke="#3A4FAA" stroke-width="2.9"/>
<rect x="361.3" y="1844.2" width="46.6" height="70.3" fill="none" stroke="#3A4FAA" stroke-width="2.9"/>
<line x1="361.3" y1="1880.4" x2="407.9" y2="1880.4" stroke="#3A4FAA" stroke-width="2.9"/>
<polygon points="236,1868 237.12,1870.76 240.09,1870.97 237.81,1872.89 238.53,1875.78 236,1874.2 233.47,1875.78 234.19,1872.89 231.91,1870.97 234.88,1870.76" fill="#111" stroke="#111" stroke-width="0.5" stroke-linejoin="round"/>
<polygon points="309.6,1975.6 310.72,1978.36 313.69,1978.57 311.41,1980.49 312.13,1983.38 309.6,1981.8 307.07,1983.38 307.79,1980.49 305.51,1978.57 308.48,1978.36" fill="#111" stroke="#111" stroke-width="0.5" stroke-linejoin="round"/>
<polygon points="375.6,1812.2 376.72,1814.96 379.69,1815.17 377.41,1817.09 378.13,1819.98 375.6,1818.4 373.07,1819.98 373.79,1817.09 371.51,1815.17 374.48,1814.96" fill="#111" stroke="#111" stroke-width="0.5" stroke-linejoin="round"/>
<text x="383.5" y="1820.1" font-family="Liberation Sans" font-size="13.8" font-weight="normal" fill="#111" text-anchor="start" >&amp;&amp;</text>
<text x="275" y="1775" font-family="Liberation Sans" font-size="26.5" font-weight="bold" font-style="italic" fill="#111" text-anchor="middle" textLength="164.3" lengthAdjust="spacingAndGlyphs">Oscillibacter</text>
<text transform="translate(58.4 1932) rotate(-90)" font-family="Liberation Sans" font-size="28.5" font-weight="bold" fill="#111" text-anchor="middle" textLength="257.7" lengthAdjust="spacingAndGlyphs">Relative abundance</text>
</g>
<text transform="translate(1 1772) scale(0.98 1)" font-family="Liberation Sans" font-size="41.5" fill="#000">g</text>
</svg>
</body></html>
